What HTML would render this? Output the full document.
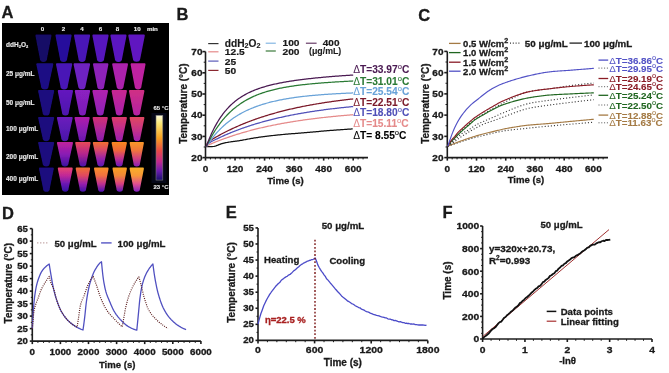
<!DOCTYPE html>
<html><head><meta charset="utf-8"><style>
html,body{margin:0;padding:0;background:#fff;width:669px;height:373px;overflow:hidden}
svg{display:block;font-family:"Liberation Sans", sans-serif;will-change:transform}
</style></head><body>
<svg width="669" height="373" viewBox="0 0 669 373">
<defs><filter id="blur" x="-20%" y="-20%" width="140%" height="140%"><feGaussianBlur stdDeviation="0.7"/></filter><linearGradient id="g1" x1="0" y1="0" x2="0" y2="1"><stop offset="0.00" stop-color="#6418be"/><stop offset="1.00" stop-color="#4c16ae"/></linearGradient><linearGradient id="g2" x1="0" y1="0" x2="0" y2="1"><stop offset="0.00" stop-color="#8c20c0"/><stop offset="1.00" stop-color="#7a1eb8"/></linearGradient><linearGradient id="g3" x1="0" y1="0" x2="0" y2="1"><stop offset="0.00" stop-color="#b020ae"/><stop offset="1.00" stop-color="#8c20b8"/></linearGradient><linearGradient id="g4" x1="0" y1="0" x2="0" y2="1"><stop offset="0.00" stop-color="#c82890"/><stop offset="1.00" stop-color="#a820ac"/></linearGradient><linearGradient id="g5" x1="0" y1="0" x2="0" y2="1"><stop offset="0.00" stop-color="#d03084"/><stop offset="1.00" stop-color="#b422a4"/></linearGradient><linearGradient id="g6" x1="0" y1="0" x2="0" y2="1"><stop offset="0.00" stop-color="#6c1cbc"/><stop offset="0.50" stop-color="#5a1ab4"/><stop offset="1.00" stop-color="#4816a8"/></linearGradient><linearGradient id="g7" x1="0" y1="0" x2="0" y2="1"><stop offset="0.00" stop-color="#b01ea8"/><stop offset="0.50" stop-color="#8c1cb4"/><stop offset="1.00" stop-color="#6a18b0"/></linearGradient><linearGradient id="g8" x1="0" y1="0" x2="0" y2="1"><stop offset="0.00" stop-color="#d03072"/><stop offset="0.50" stop-color="#b02898"/><stop offset="1.00" stop-color="#8a1cb0"/></linearGradient><linearGradient id="g9" x1="0" y1="0" x2="0" y2="1"><stop offset="0.00" stop-color="#dc3c68"/><stop offset="0.50" stop-color="#c02c90"/><stop offset="1.00" stop-color="#9a20b0"/></linearGradient><linearGradient id="g10" x1="0" y1="0" x2="0" y2="1"><stop offset="0.00" stop-color="#e04860"/><stop offset="0.50" stop-color="#c83484"/><stop offset="1.00" stop-color="#a020b0"/></linearGradient><linearGradient id="g11" x1="0" y1="0" x2="0" y2="1"><stop offset="0.00" stop-color="#c0229c"/><stop offset="0.50" stop-color="#8a1cb4"/><stop offset="1.00" stop-color="#3a10a0"/></linearGradient><linearGradient id="g12" x1="0" y1="0" x2="0" y2="1"><stop offset="0.00" stop-color="#e84a58"/><stop offset="0.50" stop-color="#b4248e"/><stop offset="1.00" stop-color="#4a12a8"/></linearGradient><linearGradient id="g13" x1="0" y1="0" x2="0" y2="1"><stop offset="0.00" stop-color="#f07030"/><stop offset="0.33" stop-color="#d84868"/><stop offset="0.67" stop-color="#9a22a8"/><stop offset="1.00" stop-color="#5a18b0"/></linearGradient><linearGradient id="g14" x1="0" y1="0" x2="0" y2="1"><stop offset="0.00" stop-color="#f88820"/><stop offset="0.33" stop-color="#f06838"/><stop offset="0.67" stop-color="#c03090"/><stop offset="1.00" stop-color="#6a18b8"/></linearGradient><linearGradient id="g15" x1="0" y1="0" x2="0" y2="1"><stop offset="0.00" stop-color="#f89828"/><stop offset="0.33" stop-color="#f07838"/><stop offset="0.67" stop-color="#d04080"/><stop offset="1.00" stop-color="#8a20b8"/></linearGradient><linearGradient id="g16" x1="0" y1="0" x2="0" y2="1"><stop offset="0.00" stop-color="#e84470"/><stop offset="0.33" stop-color="#c02898"/><stop offset="0.67" stop-color="#6a18b4"/><stop offset="1.00" stop-color="#3010a0"/></linearGradient><linearGradient id="g17" x1="0" y1="0" x2="0" y2="1"><stop offset="0.00" stop-color="#f07032"/><stop offset="0.33" stop-color="#e04860"/><stop offset="0.67" stop-color="#9a20ac"/><stop offset="1.00" stop-color="#4010a8"/></linearGradient><linearGradient id="g18" x1="0" y1="0" x2="0" y2="1"><stop offset="0.00" stop-color="#f89028"/><stop offset="0.33" stop-color="#f07040"/><stop offset="0.67" stop-color="#c03090"/><stop offset="1.00" stop-color="#4a10b0"/></linearGradient><linearGradient id="g19" x1="0" y1="0" x2="0" y2="1"><stop offset="0.00" stop-color="#f8a020"/><stop offset="0.33" stop-color="#f08838"/><stop offset="0.67" stop-color="#d84080"/><stop offset="1.00" stop-color="#5a18b8"/></linearGradient><linearGradient id="g20" x1="0" y1="0" x2="0" y2="1"><stop offset="0.00" stop-color="#f8b028"/><stop offset="0.33" stop-color="#f89838"/><stop offset="0.67" stop-color="#e05090"/><stop offset="1.00" stop-color="#8020c0"/></linearGradient><linearGradient id="cbar" x1="0" y1="0" x2="0" y2="1"><stop offset="0" stop-color="#fdfbe0"/><stop offset="0.12" stop-color="#fbe878"/><stop offset="0.35" stop-color="#f8a020"/><stop offset="0.55" stop-color="#e84848"/><stop offset="0.72" stop-color="#c02890"/><stop offset="0.86" stop-color="#6a1cb0"/><stop offset="1" stop-color="#1a1070"/></linearGradient></defs>
<rect width="669" height="373" fill="#fff"/>
<text x="1.50" y="17.70" font-size="16.5" text-anchor="start" fill="#1a1a1a" font-weight="bold" stroke="#1a1a1a" stroke-width="0.3" >A</text>
<text x="176.50" y="20.20" font-size="16.5" text-anchor="start" fill="#1a1a1a" font-weight="bold" stroke="#1a1a1a" stroke-width="0.3" >B</text>
<text x="418.20" y="20.50" font-size="16.5" text-anchor="start" fill="#1a1a1a" font-weight="bold" stroke="#1a1a1a" stroke-width="0.3" >C</text>
<text x="2.00" y="218.60" font-size="16.5" text-anchor="start" fill="#1a1a1a" font-weight="bold" stroke="#1a1a1a" stroke-width="0.3" >D</text>
<text x="225.80" y="217.50" font-size="16.5" text-anchor="start" fill="#1a1a1a" font-weight="bold" stroke="#1a1a1a" stroke-width="0.3" >E</text>
<text x="442.50" y="217.50" font-size="16.5" text-anchor="start" fill="#1a1a1a" font-weight="bold" stroke="#1a1a1a" stroke-width="0.3" >F</text>
<rect x="2" y="23" width="167" height="172" fill="#000"/>
<path d="M36.20,34.50 L50.70,34.50 Q51.50,34.50 51.50,35.70 L47.15,58.30 A3.70,3.70 0 0 1 39.75,58.30 L35.40,35.70 Q35.40,34.50 36.20,34.50 Z" fill="#140a66" filter="url(#blur)"/>
<path d="M56.30,34.50 L70.80,34.50 Q71.60,34.50 71.60,35.70 L67.25,58.30 A3.70,3.70 0 0 1 59.85,58.30 L55.50,35.70 Q55.50,34.50 56.30,34.50 Z" fill="#28109c" filter="url(#blur)"/>
<path d="M74.80,34.50 L89.30,34.50 Q90.10,34.50 90.10,35.70 L85.75,58.30 A3.70,3.70 0 0 1 78.35,58.30 L74.00,35.70 Q74.00,34.50 74.80,34.50 Z" fill="#4816b6" filter="url(#blur)"/>
<path d="M93.20,34.50 L107.80,34.50 Q108.60,34.50 108.60,35.70 L104.23,58.27 A3.73,3.73 0 0 1 96.77,58.27 L92.40,35.70 Q92.40,34.50 93.20,34.50 Z" fill="#5617bc" filter="url(#blur)"/>
<path d="M111.20,34.50 L125.70,34.50 Q126.50,34.50 126.50,35.70 L122.15,58.30 A3.70,3.70 0 0 1 114.75,58.30 L110.40,35.70 Q110.40,34.50 111.20,34.50 Z" fill="#5a18c0" filter="url(#blur)"/>
<path d="M129.10,34.50 L144.00,34.50 Q144.80,34.50 144.80,35.70 L140.34,58.20 A3.80,3.80 0 0 1 132.76,58.20 L128.30,35.70 Q128.30,34.50 129.10,34.50 Z" fill="#6018c0" filter="url(#blur)"/>
<path d="M37.10,63.20 L52.50,63.20 Q53.30,63.20 53.30,64.40 L48.71,85.59 A3.91,3.91 0 0 1 40.89,85.59 L36.30,64.40 Q36.30,63.20 37.10,63.20 Z" fill="#1c0c84" filter="url(#blur)"/>
<path d="M56.80,63.20 L71.40,63.20 Q72.20,63.20 72.20,64.40 L67.83,85.77 A3.73,3.73 0 0 1 60.37,85.77 L56.00,64.40 Q56.00,63.20 56.80,63.20 Z" fill="#4818b6" filter="url(#blur)"/>
<path d="M74.40,63.20 L89.30,63.20 Q90.10,63.20 90.10,64.40 L85.64,85.70 A3.80,3.80 0 0 1 78.05,85.70 L73.60,64.40 Q73.60,63.20 74.40,63.20 Z" fill="#6e20c0" filter="url(#blur)"/>
<path d="M93.80,63.20 L107.60,63.20 Q108.40,63.20 108.40,64.40 L104.24,85.96 A3.54,3.54 0 0 1 97.16,85.96 L93.00,64.40 Q93.00,63.20 93.80,63.20 Z" fill="#8e20b8" filter="url(#blur)"/>
<path d="M113.00,63.20 L127.20,63.20 Q128.00,63.20 128.00,64.40 L123.73,85.87 A3.63,3.63 0 0 1 116.47,85.87 L112.20,64.40 Q112.20,63.20 113.00,63.20 Z" fill="#ac20ac" filter="url(#blur)"/>
<path d="M131.40,63.20 L144.70,63.20 Q145.50,63.20 145.50,64.40 L141.48,86.07 A3.43,3.43 0 0 1 134.62,86.07 L130.60,64.40 Q130.60,63.20 131.40,63.20 Z" fill="#be22a0" filter="url(#blur)"/>
<path d="M38.90,90.00 L53.40,90.00 Q54.20,90.00 54.20,91.20 L49.85,111.90 A3.70,3.70 0 0 1 42.45,111.90 L38.10,91.20 Q38.10,90.00 38.90,90.00 Z" fill="#1a0c7e" filter="url(#blur)"/>
<path d="M58.60,90.00 L72.20,90.00 Q73.00,90.00 73.00,91.20 L68.90,112.10 A3.50,3.50 0 0 1 61.90,112.10 L57.80,91.20 Q57.80,90.00 58.60,90.00 Z" fill="url(#g1)" filter="url(#blur)"/>
<path d="M75.60,90.00 L89.30,90.00 Q90.10,90.00 90.10,91.20 L85.97,112.08 A3.52,3.52 0 0 1 78.93,112.08 L74.80,91.20 Q74.80,90.00 75.60,90.00 Z" fill="url(#g2)" filter="url(#blur)"/>
<path d="M93.20,90.00 L107.20,90.00 Q108.00,90.00 108.00,91.20 L103.79,112.01 A3.59,3.59 0 0 1 96.61,112.01 L92.40,91.20 Q92.40,90.00 93.20,90.00 Z" fill="url(#g3)" filter="url(#blur)"/>
<path d="M112.40,90.00 L126.10,90.00 Q126.90,90.00 126.90,91.20 L122.77,112.08 A3.52,3.52 0 0 1 115.73,112.08 L111.60,91.20 Q111.60,90.00 112.40,90.00 Z" fill="url(#g4)" filter="url(#blur)"/>
<path d="M129.80,90.00 L143.60,90.00 Q144.40,90.00 144.40,91.20 L140.24,112.06 A3.54,3.54 0 0 1 133.16,112.06 L129.00,91.20 Q129.00,90.00 129.80,90.00 Z" fill="url(#g5)" filter="url(#blur)"/>
<path d="M38.90,116.90 L53.40,116.90 Q54.20,116.90 54.20,118.10 L49.85,137.50 A3.70,3.70 0 0 1 42.45,137.50 L38.10,118.10 Q38.10,116.90 38.90,116.90 Z" fill="#1a0c7e" filter="url(#blur)"/>
<path d="M57.70,116.90 L71.90,116.90 Q72.70,116.90 72.70,118.10 L68.43,137.57 A3.63,3.63 0 0 1 61.17,137.57 L56.90,118.10 Q56.90,116.90 57.70,116.90 Z" fill="url(#g6)" filter="url(#blur)"/>
<path d="M75.30,116.90 L88.90,116.90 Q89.70,116.90 89.70,118.10 L85.60,137.70 A3.50,3.50 0 0 1 78.60,137.70 L74.50,118.10 Q74.50,116.90 75.30,116.90 Z" fill="url(#g7)" filter="url(#blur)"/>
<path d="M93.40,116.90 L107.00,116.90 Q107.80,116.90 107.80,118.10 L103.70,137.70 A3.50,3.50 0 0 1 96.70,137.70 L92.60,118.10 Q92.60,116.90 93.40,116.90 Z" fill="url(#g8)" filter="url(#blur)"/>
<path d="M112.40,116.90 L126.10,116.90 Q126.90,116.90 126.90,118.10 L122.77,137.68 A3.52,3.52 0 0 1 115.73,137.68 L111.60,118.10 Q111.60,116.90 112.40,116.90 Z" fill="url(#g9)" filter="url(#blur)"/>
<path d="M130.40,116.90 L143.60,116.90 Q144.40,116.90 144.40,118.10 L140.40,137.80 A3.40,3.40 0 0 1 133.60,137.80 L129.60,118.10 Q129.60,116.90 130.40,116.90 Z" fill="url(#g10)" filter="url(#blur)"/>
<path d="M38.90,141.90 L53.40,141.90 Q54.20,141.90 54.20,143.10 L49.85,162.80 A3.70,3.70 0 0 1 42.45,162.80 L38.10,143.10 Q38.10,141.90 38.90,141.90 Z" fill="#1a0c7e" filter="url(#blur)"/>
<path d="M57.70,141.90 L72.20,141.90 Q73.00,141.90 73.00,143.10 L68.65,162.80 A3.70,3.70 0 0 1 61.25,162.80 L56.90,143.10 Q56.90,141.90 57.70,141.90 Z" fill="url(#g11)" filter="url(#blur)"/>
<path d="M76.00,141.90 L89.80,141.90 Q90.60,141.90 90.60,143.10 L86.44,162.96 A3.54,3.54 0 0 1 79.36,162.96 L75.20,143.10 Q75.20,141.90 76.00,141.90 Z" fill="url(#g12)" filter="url(#blur)"/>
<path d="M93.60,141.90 L107.80,141.90 Q108.60,141.90 108.60,143.10 L104.33,162.87 A3.63,3.63 0 0 1 97.07,162.87 L92.80,143.10 Q92.80,141.90 93.60,141.90 Z" fill="url(#g13)" filter="url(#blur)"/>
<path d="M112.40,141.90 L126.10,141.90 Q126.90,141.90 126.90,143.10 L122.77,162.98 A3.52,3.52 0 0 1 115.73,162.98 L111.60,143.10 Q111.60,141.90 112.40,141.90 Z" fill="url(#g14)" filter="url(#blur)"/>
<path d="M130.40,141.90 L143.10,141.90 Q143.90,141.90 143.90,143.10 L140.04,163.21 A3.29,3.29 0 0 1 133.46,163.21 L129.60,143.10 Q129.60,141.90 130.40,141.90 Z" fill="url(#g15)" filter="url(#blur)"/>
<path d="M39.80,167.60 L53.00,167.60 Q53.80,167.60 53.80,168.80 L49.80,188.40 A3.40,3.40 0 0 1 43.00,188.40 L39.00,168.80 Q39.00,167.60 39.80,167.60 Z" fill="#1a0c7e" filter="url(#blur)"/>
<path d="M58.60,167.60 L71.90,167.60 Q72.70,167.60 72.70,168.80 L68.68,188.37 A3.43,3.43 0 0 1 61.82,188.37 L57.80,168.80 Q57.80,167.60 58.60,167.60 Z" fill="url(#g16)" filter="url(#blur)"/>
<path d="M76.50,167.60 L89.30,167.60 Q90.10,167.60 90.10,168.80 L86.21,188.49 A3.31,3.31 0 0 1 79.59,188.49 L75.70,168.80 Q75.70,167.60 76.50,167.60 Z" fill="url(#g17)" filter="url(#blur)"/>
<path d="M94.80,167.60 L107.80,167.60 Q108.60,167.60 108.60,168.80 L104.66,188.44 A3.36,3.36 0 0 1 97.94,188.44 L94.00,168.80 Q94.00,167.60 94.80,167.60 Z" fill="url(#g18)" filter="url(#blur)"/>
<path d="M113.30,167.60 L126.10,167.60 Q126.90,167.60 126.90,168.80 L123.01,188.49 A3.31,3.31 0 0 1 116.39,188.49 L112.50,168.80 Q112.50,167.60 113.30,167.60 Z" fill="url(#g19)" filter="url(#blur)"/>
<path d="M130.40,167.60 L143.10,167.60 Q143.90,167.60 143.90,168.80 L140.04,188.51 A3.29,3.29 0 0 1 133.46,188.51 L129.60,168.80 Q129.60,167.60 130.40,167.60 Z" fill="url(#g20)" filter="url(#blur)"/>
<text x="42.50" y="31.30" font-size="6.2" text-anchor="middle" fill="#e8e8e8" font-weight="bold" stroke="#e8e8e8" stroke-width="0.15" >0</text>
<text x="63.40" y="31.30" font-size="6.2" text-anchor="middle" fill="#e8e8e8" font-weight="bold" stroke="#e8e8e8" stroke-width="0.15" >2</text>
<text x="81.90" y="31.30" font-size="6.2" text-anchor="middle" fill="#e8e8e8" font-weight="bold" stroke="#e8e8e8" stroke-width="0.15" >4</text>
<text x="100.60" y="31.30" font-size="6.2" text-anchor="middle" fill="#e8e8e8" font-weight="bold" stroke="#e8e8e8" stroke-width="0.15" >6</text>
<text x="117.60" y="31.30" font-size="6.2" text-anchor="middle" fill="#e8e8e8" font-weight="bold" stroke="#e8e8e8" stroke-width="0.15" >8</text>
<text x="137.20" y="31.30" font-size="6.2" text-anchor="middle" fill="#e8e8e8" font-weight="bold" stroke="#e8e8e8" stroke-width="0.15" >10</text>
<text x="152.40" y="31.30" font-size="6.2" text-anchor="middle" fill="#e8e8e8" font-weight="bold" stroke="#e8e8e8" stroke-width="0.15" >min</text>
<text x="6.00" y="46.80" font-size="6.5" text-anchor="start" fill="#e8e8e8" font-weight="bold" stroke="#e8e8e8" stroke-width="0.15" >ddH<tspan font-size="4" dy="1.5">2</tspan><tspan dy="-1.5">O</tspan><tspan font-size="4" dy="1.5">2</tspan></text>
<text x="6.00" y="76.40" font-size="6.5" text-anchor="start" fill="#e8e8e8" font-weight="bold" stroke="#e8e8e8" stroke-width="0.15" >25 μg/mL</text>
<text x="6.00" y="105.10" font-size="6.5" text-anchor="start" fill="#e8e8e8" font-weight="bold" stroke="#e8e8e8" stroke-width="0.15" >50 μg/mL</text>
<text x="6.00" y="130.80" font-size="6.5" text-anchor="start" fill="#e8e8e8" font-weight="bold" stroke="#e8e8e8" stroke-width="0.15" >100 μg/mL</text>
<text x="6.00" y="158.80" font-size="6.5" text-anchor="start" fill="#e8e8e8" font-weight="bold" stroke="#e8e8e8" stroke-width="0.15" >200 μg/mL</text>
<text x="6.00" y="181.20" font-size="6.5" text-anchor="start" fill="#e8e8e8" font-weight="bold" stroke="#e8e8e8" stroke-width="0.15" >400 μg/mL</text>
<rect x="151.5" y="113" width="15" height="70" fill="#060818"/>
<rect x="156" y="115.3" width="6.8" height="64.8" fill="url(#cbar)" stroke="#777" stroke-width="0.6"/>
<text x="161.00" y="109.50" font-size="6" text-anchor="middle" fill="#e8e8e8" font-weight="bold" stroke="#e8e8e8" stroke-width="0.12" >65 °C</text>
<text x="161.00" y="189.30" font-size="6" text-anchor="middle" fill="#e8e8e8" font-weight="bold" stroke="#e8e8e8" stroke-width="0.12" >23 °C</text>
<line x1="205.50" y1="51.60" x2="205.50" y2="157.60" stroke="#1c1c1c" stroke-width="1.6" />
<line x1="202.50" y1="157.60" x2="205.50" y2="157.60" stroke="#1c1c1c" stroke-width="1.6" />
<text transform="translate(202.50,160.80) scale(1.12,1)" font-size="8.93" text-anchor="end" fill="#1a1a1a" font-weight="bold" stroke="#1a1a1a" stroke-width="0.3">20</text>
<line x1="202.50" y1="136.40" x2="205.50" y2="136.40" stroke="#1c1c1c" stroke-width="1.6" />
<text transform="translate(202.50,139.60) scale(1.12,1)" font-size="8.93" text-anchor="end" fill="#1a1a1a" font-weight="bold" stroke="#1a1a1a" stroke-width="0.3">30</text>
<line x1="202.50" y1="115.20" x2="205.50" y2="115.20" stroke="#1c1c1c" stroke-width="1.6" />
<text transform="translate(202.50,118.40) scale(1.12,1)" font-size="8.93" text-anchor="end" fill="#1a1a1a" font-weight="bold" stroke="#1a1a1a" stroke-width="0.3">40</text>
<line x1="202.50" y1="94.00" x2="205.50" y2="94.00" stroke="#1c1c1c" stroke-width="1.6" />
<text transform="translate(202.50,97.20) scale(1.12,1)" font-size="8.93" text-anchor="end" fill="#1a1a1a" font-weight="bold" stroke="#1a1a1a" stroke-width="0.3">50</text>
<line x1="202.50" y1="72.80" x2="205.50" y2="72.80" stroke="#1c1c1c" stroke-width="1.6" />
<text transform="translate(202.50,76.00) scale(1.12,1)" font-size="8.93" text-anchor="end" fill="#1a1a1a" font-weight="bold" stroke="#1a1a1a" stroke-width="0.3">60</text>
<line x1="202.50" y1="51.60" x2="205.50" y2="51.60" stroke="#1c1c1c" stroke-width="1.6" />
<text transform="translate(202.50,54.80) scale(1.12,1)" font-size="8.93" text-anchor="end" fill="#1a1a1a" font-weight="bold" stroke="#1a1a1a" stroke-width="0.3">70</text>
<line x1="203.70" y1="147.00" x2="205.50" y2="147.00" stroke="#1c1c1c" stroke-width="1.0" />
<line x1="203.70" y1="125.80" x2="205.50" y2="125.80" stroke="#1c1c1c" stroke-width="1.0" />
<line x1="203.70" y1="104.60" x2="205.50" y2="104.60" stroke="#1c1c1c" stroke-width="1.0" />
<line x1="203.70" y1="83.40" x2="205.50" y2="83.40" stroke="#1c1c1c" stroke-width="1.0" />
<line x1="203.70" y1="62.20" x2="205.50" y2="62.20" stroke="#1c1c1c" stroke-width="1.0" />
<line x1="205.50" y1="157.60" x2="367.97" y2="157.60" stroke="#1c1c1c" stroke-width="1.6" />
<line x1="205.50" y1="157.60" x2="205.50" y2="160.60" stroke="#1c1c1c" stroke-width="1.6" />
<text transform="translate(205.50,171.60) scale(1.12,1)" font-size="8.93" text-anchor="middle" fill="#1a1a1a" font-weight="bold" stroke="#1a1a1a" stroke-width="0.3">0</text>
<line x1="235.04" y1="157.60" x2="235.04" y2="160.60" stroke="#1c1c1c" stroke-width="1.6" />
<text transform="translate(235.04,171.60) scale(1.12,1)" font-size="8.93" text-anchor="middle" fill="#1a1a1a" font-weight="bold" stroke="#1a1a1a" stroke-width="0.3">120</text>
<line x1="264.58" y1="157.60" x2="264.58" y2="160.60" stroke="#1c1c1c" stroke-width="1.6" />
<text transform="translate(264.58,171.60) scale(1.12,1)" font-size="8.93" text-anchor="middle" fill="#1a1a1a" font-weight="bold" stroke="#1a1a1a" stroke-width="0.3">240</text>
<line x1="294.12" y1="157.60" x2="294.12" y2="160.60" stroke="#1c1c1c" stroke-width="1.6" />
<text transform="translate(294.12,171.60) scale(1.12,1)" font-size="8.93" text-anchor="middle" fill="#1a1a1a" font-weight="bold" stroke="#1a1a1a" stroke-width="0.3">360</text>
<line x1="323.66" y1="157.60" x2="323.66" y2="160.60" stroke="#1c1c1c" stroke-width="1.6" />
<text transform="translate(323.66,171.60) scale(1.12,1)" font-size="8.93" text-anchor="middle" fill="#1a1a1a" font-weight="bold" stroke="#1a1a1a" stroke-width="0.3">480</text>
<line x1="353.20" y1="157.60" x2="353.20" y2="160.60" stroke="#1c1c1c" stroke-width="1.6" />
<text transform="translate(353.20,171.60) scale(1.12,1)" font-size="8.93" text-anchor="middle" fill="#1a1a1a" font-weight="bold" stroke="#1a1a1a" stroke-width="0.3">600</text>
<line x1="210.42" y1="157.60" x2="210.42" y2="159.40" stroke="#1c1c1c" stroke-width="1.0" />
<line x1="215.35" y1="157.60" x2="215.35" y2="159.40" stroke="#1c1c1c" stroke-width="1.0" />
<line x1="220.27" y1="157.60" x2="220.27" y2="159.40" stroke="#1c1c1c" stroke-width="1.0" />
<line x1="225.19" y1="157.60" x2="225.19" y2="159.40" stroke="#1c1c1c" stroke-width="1.0" />
<line x1="230.12" y1="157.60" x2="230.12" y2="159.40" stroke="#1c1c1c" stroke-width="1.0" />
<line x1="239.96" y1="157.60" x2="239.96" y2="159.40" stroke="#1c1c1c" stroke-width="1.0" />
<line x1="244.89" y1="157.60" x2="244.89" y2="159.40" stroke="#1c1c1c" stroke-width="1.0" />
<line x1="249.81" y1="157.60" x2="249.81" y2="159.40" stroke="#1c1c1c" stroke-width="1.0" />
<line x1="254.73" y1="157.60" x2="254.73" y2="159.40" stroke="#1c1c1c" stroke-width="1.0" />
<line x1="259.66" y1="157.60" x2="259.66" y2="159.40" stroke="#1c1c1c" stroke-width="1.0" />
<line x1="269.50" y1="157.60" x2="269.50" y2="159.40" stroke="#1c1c1c" stroke-width="1.0" />
<line x1="274.43" y1="157.60" x2="274.43" y2="159.40" stroke="#1c1c1c" stroke-width="1.0" />
<line x1="279.35" y1="157.60" x2="279.35" y2="159.40" stroke="#1c1c1c" stroke-width="1.0" />
<line x1="284.27" y1="157.60" x2="284.27" y2="159.40" stroke="#1c1c1c" stroke-width="1.0" />
<line x1="289.20" y1="157.60" x2="289.20" y2="159.40" stroke="#1c1c1c" stroke-width="1.0" />
<line x1="299.04" y1="157.60" x2="299.04" y2="159.40" stroke="#1c1c1c" stroke-width="1.0" />
<line x1="303.97" y1="157.60" x2="303.97" y2="159.40" stroke="#1c1c1c" stroke-width="1.0" />
<line x1="308.89" y1="157.60" x2="308.89" y2="159.40" stroke="#1c1c1c" stroke-width="1.0" />
<line x1="313.81" y1="157.60" x2="313.81" y2="159.40" stroke="#1c1c1c" stroke-width="1.0" />
<line x1="318.74" y1="157.60" x2="318.74" y2="159.40" stroke="#1c1c1c" stroke-width="1.0" />
<line x1="328.58" y1="157.60" x2="328.58" y2="159.40" stroke="#1c1c1c" stroke-width="1.0" />
<line x1="333.51" y1="157.60" x2="333.51" y2="159.40" stroke="#1c1c1c" stroke-width="1.0" />
<line x1="338.43" y1="157.60" x2="338.43" y2="159.40" stroke="#1c1c1c" stroke-width="1.0" />
<line x1="343.35" y1="157.60" x2="343.35" y2="159.40" stroke="#1c1c1c" stroke-width="1.0" />
<line x1="348.28" y1="157.60" x2="348.28" y2="159.40" stroke="#1c1c1c" stroke-width="1.0" />
<line x1="358.12" y1="157.60" x2="358.12" y2="159.40" stroke="#1c1c1c" stroke-width="1.0" />
<line x1="363.05" y1="157.60" x2="363.05" y2="159.40" stroke="#1c1c1c" stroke-width="1.0" />
<text x="285.50" y="184.10" font-size="9.6" text-anchor="middle" fill="#1a1a1a" font-weight="bold" stroke="#1a1a1a" stroke-width="0.3" >Time (s)</text>
<text x="0" y="0" font-size="10" text-anchor="middle" fill="#1a1a1a" stroke="#1a1a1a" stroke-width="0.3" font-weight="bold" transform="translate(183.90,103.60) rotate(-90)" dominant-baseline="central">Temperature (°C)</text>
<path d="M206.20,146.63 L207.18,146.65 L208.17,146.67 L209.15,146.69 L210.13,146.68 L211.12,146.65 L212.10,146.60 L213.08,146.50 L214.07,146.34 L215.05,146.10 L216.03,145.81 L217.02,145.46 L218.00,145.08 L218.98,144.70 L219.97,144.32 L220.95,143.96 L221.93,143.63 L222.92,143.35 L223.90,143.11 L224.88,142.89 L225.87,142.69 L226.85,142.50 L227.83,142.32 L228.82,142.15 L229.80,142.00 L230.78,141.85 L231.77,141.71 L232.75,141.58 L233.73,141.45 L234.72,141.32 L235.70,141.19 L236.68,141.06 L237.66,140.93 L238.65,140.78 L239.63,140.63 L240.61,140.47 L241.60,140.31 L242.58,140.13 L243.56,139.95 L244.55,139.76 L245.53,139.57 L246.51,139.38 L247.50,139.19 L248.48,139.00 L249.46,138.82 L250.45,138.64 L251.43,138.47 L252.41,138.30 L253.40,138.14 L254.38,137.98 L255.36,137.82 L256.35,137.67 L257.33,137.52 L258.31,137.37 L259.30,137.22 L260.28,137.08 L261.26,136.94 L262.25,136.81 L263.23,136.68 L264.21,136.55 L265.20,136.43 L266.18,136.30 L267.16,136.18 L268.15,136.07 L269.13,135.95 L270.11,135.84 L271.10,135.72 L272.08,135.61 L273.06,135.50 L274.05,135.40 L275.03,135.29 L276.01,135.19 L277.00,135.09 L277.98,134.99 L278.96,134.89 L279.95,134.79 L280.93,134.69 L281.91,134.60 L282.90,134.50 L283.88,134.41 L284.86,134.32 L285.85,134.23 L286.83,134.15 L287.81,134.06 L288.80,133.98 L289.78,133.90 L290.76,133.82 L291.75,133.74 L292.73,133.67 L293.71,133.59 L294.69,133.51 L295.68,133.44 L296.66,133.36 L297.64,133.29 L298.63,133.21 L299.61,133.13 L300.59,133.06 L301.58,132.98 L302.56,132.90 L303.54,132.82 L304.53,132.74 L305.51,132.66 L306.49,132.57 L307.48,132.49 L308.46,132.40 L309.44,132.31 L310.43,132.22 L311.41,132.14 L312.39,132.05 L313.38,131.96 L314.36,131.87 L315.34,131.78 L316.33,131.69 L317.31,131.60 L318.29,131.51 L319.28,131.42 L320.26,131.33 L321.24,131.24 L322.23,131.15 L323.21,131.06 L324.19,130.98 L325.18,130.89 L326.16,130.81 L327.14,130.73 L328.13,130.65 L329.11,130.57 L330.09,130.49 L331.08,130.42 L332.06,130.34 L333.04,130.27 L334.03,130.19 L335.01,130.12 L335.99,130.05 L336.98,129.98 L337.96,129.91 L338.94,129.84 L339.93,129.77 L340.91,129.70 L341.89,129.63 L342.88,129.56 L343.86,129.50 L344.84,129.43 L345.83,129.36 L346.81,129.30 L347.79,129.24 L348.78,129.17 L349.76,129.11 L350.74,129.05 L351.73,128.99 L352.71,128.95" fill="none" stroke="#111111" stroke-width="1.25" stroke-linejoin="round" />
<path d="M206.20,146.60 L207.19,145.77 L208.17,145.19 L209.16,144.70 L210.15,144.26 L211.13,143.83 L212.12,143.41 L213.11,143.00 L214.09,142.59 L215.08,142.19 L216.07,141.79 L217.05,141.40 L218.04,141.01 L219.03,140.63 L220.01,140.25 L221.00,139.88 L221.99,139.51 L222.97,139.14 L223.96,138.78 L224.94,138.42 L225.93,138.07 L226.92,137.72 L227.90,137.38 L228.89,137.04 L229.88,136.70 L230.86,136.37 L231.85,136.04 L232.84,135.71 L233.82,135.39 L234.81,135.07 L235.80,134.76 L236.78,134.45 L237.77,134.14 L238.76,133.84 L239.74,133.54 L240.73,133.24 L241.72,132.95 L242.70,132.66 L243.69,132.38 L244.68,132.09 L245.66,131.81 L246.65,131.54 L247.64,131.27 L248.62,131.00 L249.61,130.73 L250.60,130.47 L251.58,130.21 L252.57,129.95 L253.56,129.69 L254.54,129.44 L255.53,129.19 L256.52,128.95 L257.50,128.71 L258.49,128.47 L259.48,128.23 L260.46,127.99 L261.45,127.76 L262.43,127.53 L263.42,127.31 L264.41,127.08 L265.39,126.86 L266.38,126.65 L267.37,126.43 L268.35,126.22 L269.34,126.00 L270.33,125.80 L271.31,125.59 L272.30,125.39 L273.29,125.19 L274.27,124.99 L275.26,124.79 L276.25,124.60 L277.23,124.40 L278.22,124.21 L279.21,124.03 L280.19,123.84 L281.18,123.66 L282.17,123.48 L283.15,123.30 L284.14,123.12 L285.13,122.95 L286.11,122.77 L287.10,122.60 L288.09,122.43 L289.07,122.27 L290.06,122.10 L291.05,121.94 L292.03,121.78 L293.02,121.62 L294.01,121.46 L294.99,121.30 L295.98,121.15 L296.97,121.00 L297.95,120.85 L298.94,120.70 L299.92,120.55 L300.91,120.41 L301.90,120.26 L302.88,120.12 L303.87,119.98 L304.86,119.84 L305.84,119.71 L306.83,119.57 L307.82,119.44 L308.80,119.31 L309.79,119.18 L310.78,119.05 L311.76,118.92 L312.75,118.79 L313.74,118.67 L314.72,118.55 L315.71,118.42 L316.70,118.30 L317.68,118.18 L318.67,118.07 L319.66,117.95 L320.64,117.84 L321.63,117.72 L322.62,117.61 L323.60,117.50 L324.59,117.39 L325.58,117.28 L326.56,117.18 L327.55,117.07 L328.54,116.96 L329.52,116.86 L330.51,116.76 L331.50,116.66 L332.48,116.56 L333.47,116.46 L334.46,116.36 L335.44,116.27 L336.43,116.17 L337.41,116.08 L338.40,115.98 L339.39,115.89 L340.37,115.80 L341.36,115.71 L342.35,115.62 L343.33,115.54 L344.32,115.45 L345.31,115.36 L346.29,115.28 L347.28,115.19 L348.27,115.11 L349.25,115.03 L350.24,114.95 L351.23,114.87 L352.21,114.79 L353.20,114.71" fill="none" stroke="#e58a8a" stroke-width="1.25" stroke-linejoin="round" />
<path d="M206.20,146.60 L207.19,144.69 L208.17,143.65 L209.16,142.93 L210.15,142.34 L211.13,141.80 L212.12,141.28 L213.11,140.77 L214.09,140.27 L215.08,139.78 L216.07,139.30 L217.05,138.82 L218.04,138.35 L219.03,137.88 L220.01,137.42 L221.00,136.96 L221.99,136.51 L222.97,136.06 L223.96,135.62 L224.94,135.19 L225.93,134.76 L226.92,134.33 L227.90,133.91 L228.89,133.50 L229.88,133.09 L230.86,132.68 L231.85,132.28 L232.84,131.88 L233.82,131.49 L234.81,131.11 L235.80,130.72 L236.78,130.35 L237.77,129.97 L238.76,129.60 L239.74,129.24 L240.73,128.88 L241.72,128.52 L242.70,128.17 L243.69,127.82 L244.68,127.48 L245.66,127.14 L246.65,126.81 L247.64,126.48 L248.62,126.15 L249.61,125.83 L250.60,125.51 L251.58,125.19 L252.57,124.88 L253.56,124.57 L254.54,124.26 L255.53,123.96 L256.52,123.67 L257.50,123.37 L258.49,123.08 L259.48,122.79 L260.46,122.51 L261.45,122.23 L262.43,121.95 L263.42,121.68 L264.41,121.41 L265.39,121.14 L266.38,120.88 L267.37,120.62 L268.35,120.36 L269.34,120.10 L270.33,119.85 L271.31,119.60 L272.30,119.36 L273.29,119.11 L274.27,118.87 L275.26,118.64 L276.25,118.40 L277.23,118.17 L278.22,117.94 L279.21,117.71 L280.19,117.49 L281.18,117.27 L282.17,117.05 L283.15,116.83 L284.14,116.62 L285.13,116.41 L286.11,116.20 L287.10,116.00 L288.09,115.79 L289.07,115.59 L290.06,115.39 L291.05,115.20 L292.03,115.00 L293.02,114.81 L294.01,114.62 L294.99,114.44 L295.98,114.25 L296.97,114.07 L297.95,113.89 L298.94,113.71 L299.92,113.53 L300.91,113.36 L301.90,113.19 L302.88,113.02 L303.87,112.85 L304.86,112.68 L305.84,112.52 L306.83,112.35 L307.82,112.19 L308.80,112.04 L309.79,111.88 L310.78,111.72 L311.76,111.57 L312.75,111.42 L313.74,111.27 L314.72,111.12 L315.71,110.98 L316.70,110.83 L317.68,110.69 L318.67,110.55 L319.66,110.41 L320.64,110.28 L321.63,110.14 L322.62,110.01 L323.60,109.87 L324.59,109.74 L325.58,109.61 L326.56,109.48 L327.55,109.36 L328.54,109.23 L329.52,109.11 L330.51,108.99 L331.50,108.87 L332.48,108.75 L333.47,108.63 L334.46,108.51 L335.44,108.40 L336.43,108.29 L337.41,108.17 L338.40,108.06 L339.39,107.95 L340.37,107.85 L341.36,107.74 L342.35,107.63 L343.33,107.53 L344.32,107.43 L345.31,107.32 L346.29,107.22 L347.28,107.12 L348.27,107.02 L349.25,106.93 L350.24,106.83 L351.23,106.74 L352.21,106.64 L353.20,106.55" fill="none" stroke="#5050b8" stroke-width="1.25" stroke-linejoin="round" />
<path d="M206.20,146.60 L207.19,143.71 L208.17,142.24 L209.16,141.32 L210.15,140.59 L211.13,139.95 L212.12,139.35 L213.11,138.76 L214.09,138.18 L215.08,137.61 L216.07,137.04 L217.05,136.48 L218.04,135.93 L219.03,135.39 L220.01,134.85 L221.00,134.32 L221.99,133.80 L222.97,133.28 L223.96,132.77 L224.94,132.26 L225.93,131.76 L226.92,131.27 L227.90,130.78 L228.89,130.30 L229.88,129.82 L230.86,129.35 L231.85,128.88 L232.84,128.42 L233.82,127.97 L234.81,127.52 L235.80,127.07 L236.78,126.63 L237.77,126.20 L238.76,125.77 L239.74,125.35 L240.73,124.93 L241.72,124.51 L242.70,124.10 L243.69,123.70 L244.68,123.30 L245.66,122.91 L246.65,122.52 L247.64,122.13 L248.62,121.75 L249.61,121.37 L250.60,121.00 L251.58,120.63 L252.57,120.27 L253.56,119.91 L254.54,119.56 L255.53,119.21 L256.52,118.86 L257.50,118.52 L258.49,118.18 L259.48,117.85 L260.46,117.52 L261.45,117.19 L262.43,116.87 L263.42,116.55 L264.41,116.23 L265.39,115.92 L266.38,115.61 L267.37,115.31 L268.35,115.01 L269.34,114.71 L270.33,114.42 L271.31,114.13 L272.30,113.84 L273.29,113.56 L274.27,113.28 L275.26,113.00 L276.25,112.73 L277.23,112.46 L278.22,112.19 L279.21,111.93 L280.19,111.67 L281.18,111.41 L282.17,111.16 L283.15,110.91 L284.14,110.66 L285.13,110.41 L286.11,110.17 L287.10,109.93 L288.09,109.69 L289.07,109.46 L290.06,109.23 L291.05,109.00 L292.03,108.77 L293.02,108.55 L294.01,108.33 L294.99,108.11 L295.98,107.90 L296.97,107.68 L297.95,107.47 L298.94,107.27 L299.92,107.06 L300.91,106.86 L301.90,106.66 L302.88,106.46 L303.87,106.26 L304.86,106.07 L305.84,105.88 L306.83,105.69 L307.82,105.50 L308.80,105.32 L309.79,105.13 L310.78,104.95 L311.76,104.78 L312.75,104.60 L313.74,104.43 L314.72,104.25 L315.71,104.08 L316.70,103.92 L317.68,103.75 L318.67,103.59 L319.66,103.42 L320.64,103.26 L321.63,103.11 L322.62,102.95 L323.60,102.79 L324.59,102.64 L325.58,102.49 L326.56,102.34 L327.55,102.19 L328.54,102.05 L329.52,101.90 L330.51,101.76 L331.50,101.62 L332.48,101.48 L333.47,101.35 L334.46,101.21 L335.44,101.08 L336.43,100.94 L337.41,100.81 L338.40,100.68 L339.39,100.56 L340.37,100.43 L341.36,100.30 L342.35,100.18 L343.33,100.06 L344.32,99.94 L345.31,99.82 L346.29,99.70 L347.28,99.59 L348.27,99.47 L349.25,99.36 L350.24,99.24 L351.23,99.13 L352.21,99.02 L353.20,98.92" fill="none" stroke="#7a1828" stroke-width="1.25" stroke-linejoin="round" />
<path d="M206.20,146.60 L207.19,145.11 L208.17,143.66 L209.16,142.26 L210.15,140.89 L211.13,139.57 L212.12,138.29 L213.11,137.05 L214.09,135.84 L215.08,134.67 L216.07,133.53 L217.05,132.43 L218.04,131.36 L219.03,130.32 L220.01,129.31 L221.00,128.32 L221.99,127.37 L222.97,126.45 L223.96,125.55 L224.94,124.67 L225.93,123.82 L226.92,123.00 L227.90,122.20 L228.89,121.42 L229.88,120.66 L230.86,119.93 L231.85,119.21 L232.84,118.52 L233.82,117.84 L234.81,117.18 L235.80,116.54 L236.78,115.92 L237.77,115.31 L238.76,114.73 L239.74,114.15 L240.73,113.60 L241.72,113.05 L242.70,112.53 L243.69,112.01 L244.68,111.51 L245.66,111.03 L246.65,110.55 L247.64,110.09 L248.62,109.64 L249.61,109.20 L250.60,108.78 L251.58,108.36 L252.57,107.96 L253.56,107.57 L254.54,107.18 L255.53,106.81 L256.52,106.44 L257.50,106.09 L258.49,105.74 L259.48,105.41 L260.46,105.08 L261.45,104.76 L262.43,104.45 L263.42,104.14 L264.41,103.85 L265.39,103.56 L266.38,103.27 L267.37,103.00 L268.35,102.73 L269.34,102.47 L270.33,102.21 L271.31,101.97 L272.30,101.72 L273.29,101.49 L274.27,101.25 L275.26,101.03 L276.25,100.81 L277.23,100.59 L278.22,100.38 L279.21,100.18 L280.19,99.98 L281.18,99.78 L282.17,99.59 L283.15,99.41 L284.14,99.23 L285.13,99.05 L286.11,98.87 L287.10,98.71 L288.09,98.54 L289.07,98.38 L290.06,98.22 L291.05,98.07 L292.03,97.92 L293.02,97.77 L294.01,97.63 L294.99,97.49 L295.98,97.35 L296.97,97.22 L297.95,97.09 L298.94,96.96 L299.92,96.83 L300.91,96.71 L301.90,96.59 L302.88,96.47 L303.87,96.36 L304.86,96.25 L305.84,96.14 L306.83,96.03 L307.82,95.93 L308.80,95.83 L309.79,95.73 L310.78,95.63 L311.76,95.54 L312.75,95.44 L313.74,95.35 L314.72,95.26 L315.71,95.18 L316.70,95.09 L317.68,95.01 L318.67,94.93 L319.66,94.85 L320.64,94.77 L321.63,94.69 L322.62,94.62 L323.60,94.54 L324.59,94.47 L325.58,94.40 L326.56,94.33 L327.55,94.27 L328.54,94.20 L329.52,94.14 L330.51,94.08 L331.50,94.01 L332.48,93.95 L333.47,93.90 L334.46,93.84 L335.44,93.78 L336.43,93.73 L337.41,93.67 L338.40,93.62 L339.39,93.57 L340.37,93.52 L341.36,93.47 L342.35,93.42 L343.33,93.37 L344.32,93.33 L345.31,93.28 L346.29,93.24 L347.28,93.19 L348.27,93.15 L349.25,93.11 L350.24,93.07 L351.23,93.03 L352.21,92.99 L353.20,92.95" fill="none" stroke="#68a2d8" stroke-width="1.25" stroke-linejoin="round" />
<path d="M206.20,146.60 L207.19,144.57 L208.17,142.61 L209.16,140.71 L210.15,138.87 L211.13,137.09 L212.12,135.36 L213.11,133.70 L214.09,132.08 L215.08,130.52 L216.07,129.01 L217.05,127.55 L218.04,126.13 L219.03,124.76 L220.01,123.43 L221.00,122.15 L221.99,120.91 L222.97,119.70 L223.96,118.54 L224.94,117.41 L225.93,116.32 L226.92,115.26 L227.90,114.24 L228.89,113.25 L229.88,112.29 L230.86,111.36 L231.85,110.46 L232.84,109.59 L233.82,108.75 L234.81,107.93 L235.80,107.14 L236.78,106.37 L237.77,105.63 L238.76,104.91 L239.74,104.21 L240.73,103.54 L241.72,102.88 L242.70,102.25 L243.69,101.63 L244.68,101.04 L245.66,100.46 L246.65,99.90 L247.64,99.36 L248.62,98.84 L249.61,98.33 L250.60,97.83 L251.58,97.35 L252.57,96.89 L253.56,96.44 L254.54,96.00 L255.53,95.58 L256.52,95.17 L257.50,94.77 L258.49,94.38 L259.48,94.01 L260.46,93.65 L261.45,93.29 L262.43,92.95 L263.42,92.62 L264.41,92.30 L265.39,91.98 L266.38,91.68 L267.37,91.38 L268.35,91.10 L269.34,90.82 L270.33,90.55 L271.31,90.28 L272.30,90.03 L273.29,89.78 L274.27,89.54 L275.26,89.30 L276.25,89.07 L277.23,88.85 L278.22,88.64 L279.21,88.43 L280.19,88.22 L281.18,88.02 L282.17,87.83 L283.15,87.64 L284.14,87.46 L285.13,87.28 L286.11,87.11 L287.10,86.94 L288.09,86.77 L289.07,86.61 L290.06,86.45 L291.05,86.30 L292.03,86.15 L293.02,86.01 L294.01,85.87 L294.99,85.73 L295.98,85.59 L296.97,85.46 L297.95,85.33 L298.94,85.21 L299.92,85.08 L300.91,84.96 L301.90,84.85 L302.88,84.73 L303.87,84.62 L304.86,84.51 L305.84,84.40 L306.83,84.30 L307.82,84.20 L308.80,84.10 L309.79,84.00 L310.78,83.90 L311.76,83.81 L312.75,83.72 L313.74,83.62 L314.72,83.54 L315.71,83.45 L316.70,83.36 L317.68,83.28 L318.67,83.20 L319.66,83.12 L320.64,83.04 L321.63,82.96 L322.62,82.88 L323.60,82.81 L324.59,82.73 L325.58,82.66 L326.56,82.59 L327.55,82.52 L328.54,82.45 L329.52,82.38 L330.51,82.31 L331.50,82.25 L332.48,82.18 L333.47,82.12 L334.46,82.05 L335.44,81.99 L336.43,81.93 L337.41,81.87 L338.40,81.81 L339.39,81.75 L340.37,81.69 L341.36,81.63 L342.35,81.58 L343.33,81.52 L344.32,81.46 L345.31,81.41 L346.29,81.35 L347.28,81.30 L348.27,81.25 L349.25,81.19 L350.24,81.14 L351.23,81.09 L352.21,81.04 L353.20,80.99" fill="none" stroke="#2a7a34" stroke-width="1.25" stroke-linejoin="round" />
<path d="M206.20,146.60 L207.19,143.94 L208.17,141.39 L209.16,138.95 L210.15,136.62 L211.13,134.38 L212.12,132.25 L213.11,130.20 L214.09,128.25 L215.08,126.37 L216.07,124.58 L217.05,122.86 L218.04,121.22 L219.03,119.64 L220.01,118.13 L221.00,116.68 L221.99,115.29 L222.97,113.96 L223.96,112.68 L224.94,111.45 L225.93,110.28 L226.92,109.15 L227.90,108.06 L228.89,107.02 L229.88,106.02 L230.86,105.06 L231.85,104.14 L232.84,103.25 L233.82,102.40 L234.81,101.58 L235.80,100.79 L236.78,100.03 L237.77,99.30 L238.76,98.59 L239.74,97.91 L240.73,97.26 L241.72,96.63 L242.70,96.02 L243.69,95.44 L244.68,94.87 L245.66,94.33 L246.65,93.80 L247.64,93.29 L248.62,92.80 L249.61,92.33 L250.60,91.87 L251.58,91.43 L252.57,91.00 L253.56,90.58 L254.54,90.18 L255.53,89.79 L256.52,89.41 L257.50,89.05 L258.49,88.69 L259.48,88.35 L260.46,88.02 L261.45,87.69 L262.43,87.38 L263.42,87.07 L264.41,86.78 L265.39,86.49 L266.38,86.21 L267.37,85.94 L268.35,85.67 L269.34,85.42 L270.33,85.17 L271.31,84.92 L272.30,84.68 L273.29,84.45 L274.27,84.22 L275.26,84.00 L276.25,83.79 L277.23,83.58 L278.22,83.37 L279.21,83.17 L280.19,82.98 L281.18,82.78 L282.17,82.60 L283.15,82.41 L284.14,82.24 L285.13,82.06 L286.11,81.89 L287.10,81.72 L288.09,81.56 L289.07,81.40 L290.06,81.24 L291.05,81.08 L292.03,80.93 L293.02,80.78 L294.01,80.64 L294.99,80.49 L295.98,80.35 L296.97,80.21 L297.95,80.08 L298.94,79.95 L299.92,79.82 L300.91,79.69 L301.90,79.56 L302.88,79.44 L303.87,79.31 L304.86,79.19 L305.84,79.08 L306.83,78.96 L307.82,78.85 L308.80,78.73 L309.79,78.62 L310.78,78.51 L311.76,78.41 L312.75,78.30 L313.74,78.20 L314.72,78.09 L315.71,77.99 L316.70,77.89 L317.68,77.80 L318.67,77.70 L319.66,77.60 L320.64,77.51 L321.63,77.42 L322.62,77.33 L323.60,77.24 L324.59,77.15 L325.58,77.06 L326.56,76.97 L327.55,76.89 L328.54,76.80 L329.52,76.72 L330.51,76.64 L331.50,76.56 L332.48,76.48 L333.47,76.40 L334.46,76.32 L335.44,76.24 L336.43,76.17 L337.41,76.09 L338.40,76.02 L339.39,75.94 L340.37,75.87 L341.36,75.80 L342.35,75.73 L343.33,75.66 L344.32,75.59 L345.31,75.52 L346.29,75.46 L347.28,75.39 L348.27,75.32 L349.25,75.26 L350.24,75.19 L351.23,75.13 L352.21,75.07 L353.20,75.01" fill="none" stroke="#4a1a52" stroke-width="1.25" stroke-linejoin="round" />
<line x1="208.20" y1="43.60" x2="218.50" y2="43.60" stroke="#333333" stroke-width="1.2" />
<text x="224.80" y="46.60" font-size="10.2" text-anchor="start" fill="#1a1a1a" font-weight="bold" stroke="#1a1a1a" stroke-width="0.15" >ddH<tspan font-size="7.2" dy="1.5">2</tspan><tspan dy="-1.5">O</tspan><tspan font-size="7.2" dy="1.5">2</tspan></text>
<line x1="208.20" y1="51.80" x2="218.50" y2="51.80" stroke="#e58a8a" stroke-width="1.2" />
<text transform="translate(224.80,55.00) scale(1.12,1)" font-size="9.11" text-anchor="start" fill="#1a1a1a" font-weight="bold" stroke="#1a1a1a" stroke-width="0.2">12.5</text>
<line x1="208.20" y1="61.10" x2="218.50" y2="61.10" stroke="#5a5ab8" stroke-width="1.2" />
<text transform="translate(224.80,64.60) scale(1.12,1)" font-size="9.11" text-anchor="start" fill="#1a1a1a" font-weight="bold" stroke="#1a1a1a" stroke-width="0.2">25</text>
<line x1="208.20" y1="70.40" x2="218.50" y2="70.40" stroke="#8a2830" stroke-width="1.2" />
<text transform="translate(224.80,73.60) scale(1.12,1)" font-size="9.11" text-anchor="start" fill="#1a1a1a" font-weight="bold" stroke="#1a1a1a" stroke-width="0.2">50</text>
<line x1="265.70" y1="43.20" x2="275.80" y2="43.20" stroke="#7ab0e0" stroke-width="1.1" />
<text transform="translate(282.50,45.90) scale(1.12,1)" font-size="9.11" text-anchor="start" fill="#1a1a1a" font-weight="bold" stroke="#1a1a1a" stroke-width="0.2">100</text>
<line x1="265.70" y1="51.00" x2="275.80" y2="51.00" stroke="#3a7a3a" stroke-width="1.2" />
<text transform="translate(282.50,54.50) scale(1.12,1)" font-size="9.11" text-anchor="start" fill="#1a1a1a" font-weight="bold" stroke="#1a1a1a" stroke-width="0.2">200</text>
<line x1="305.90" y1="43.20" x2="316.60" y2="43.20" stroke="#5a2a5a" stroke-width="1.1" />
<text transform="translate(322.80,45.90) scale(1.12,1)" font-size="8.93" text-anchor="start" fill="#1a1a1a" font-weight="bold" stroke="#1a1a1a" stroke-width="0.2">400</text>
<text x="309.00" y="54.30" font-size="8.8" text-anchor="start" fill="#1a1a1a" font-weight="bold" stroke="#1a1a1a" stroke-width="0.1" >(μg/mL)</text>
<text x="353.20" y="72.90" font-size="10.2" text-anchor="start" fill="#4a1a52" font-weight="bold" stroke="#4a1a52" stroke-width="0.1" ><tspan font-weight="normal" stroke-width="0">Δ</tspan>T=33.97<tspan font-size="7.6" dy="-4.1" font-weight="normal" stroke-width="0.1">o</tspan><tspan dy="4.1">C</tspan></text>
<text x="353.20" y="84.80" font-size="10.2" text-anchor="start" fill="#2a7a34" font-weight="bold" stroke="#2a7a34" stroke-width="0.1" ><tspan font-weight="normal" stroke-width="0">Δ</tspan>T=31.01<tspan font-size="7.6" dy="-4.1" font-weight="normal" stroke-width="0.1">o</tspan><tspan dy="4.1">C</tspan></text>
<text x="353.20" y="95.40" font-size="10.2" text-anchor="start" fill="#68a2d8" font-weight="bold" stroke="#68a2d8" stroke-width="0.1" ><tspan font-weight="normal" stroke-width="0">Δ</tspan>T=25.54<tspan font-size="7.6" dy="-4.1" font-weight="normal" stroke-width="0.1">o</tspan><tspan dy="4.1">C</tspan></text>
<text x="353.20" y="105.70" font-size="10.2" text-anchor="start" fill="#7a1828" font-weight="bold" stroke="#7a1828" stroke-width="0.1" ><tspan font-weight="normal" stroke-width="0">Δ</tspan>T=22.51<tspan font-size="7.6" dy="-4.1" font-weight="normal" stroke-width="0.1">o</tspan><tspan dy="4.1">C</tspan></text>
<text x="353.20" y="115.70" font-size="10.2" text-anchor="start" fill="#5050b8" font-weight="bold" stroke="#5050b8" stroke-width="0.1" ><tspan font-weight="normal" stroke-width="0">Δ</tspan>T=18.80<tspan font-size="7.6" dy="-4.1" font-weight="normal" stroke-width="0.1">o</tspan><tspan dy="4.1">C</tspan></text>
<text x="353.20" y="127.00" font-size="10.2" text-anchor="start" fill="#e58a8a" font-weight="bold" stroke="#e58a8a" stroke-width="0.1" ><tspan font-weight="normal" stroke-width="0">Δ</tspan>T=15.11<tspan font-size="7.6" dy="-4.1" font-weight="normal" stroke-width="0.1">o</tspan><tspan dy="4.1">C</tspan></text>
<text x="353.20" y="138.90" font-size="10.2" text-anchor="start" fill="#000000" font-weight="bold" stroke="#000000" stroke-width="0.1" ><tspan font-weight="normal" stroke-width="0">Δ</tspan>T=&#160;8.55<tspan font-size="7.6" dy="-4.1" font-weight="normal" stroke-width="0.1">o</tspan><tspan dy="4.1">C</tspan></text>
<line x1="447.30" y1="51.40" x2="447.30" y2="157.60" stroke="#1c1c1c" stroke-width="1.6" />
<line x1="444.30" y1="157.60" x2="447.30" y2="157.60" stroke="#1c1c1c" stroke-width="1.6" />
<text transform="translate(443.50,160.80) scale(1.12,1)" font-size="8.93" text-anchor="end" fill="#1a1a1a" font-weight="bold" stroke="#1a1a1a" stroke-width="0.3">20</text>
<line x1="444.30" y1="136.36" x2="447.30" y2="136.36" stroke="#1c1c1c" stroke-width="1.6" />
<text transform="translate(443.50,139.56) scale(1.12,1)" font-size="8.93" text-anchor="end" fill="#1a1a1a" font-weight="bold" stroke="#1a1a1a" stroke-width="0.3">30</text>
<line x1="444.30" y1="115.12" x2="447.30" y2="115.12" stroke="#1c1c1c" stroke-width="1.6" />
<text transform="translate(443.50,118.32) scale(1.12,1)" font-size="8.93" text-anchor="end" fill="#1a1a1a" font-weight="bold" stroke="#1a1a1a" stroke-width="0.3">40</text>
<line x1="444.30" y1="93.88" x2="447.30" y2="93.88" stroke="#1c1c1c" stroke-width="1.6" />
<text transform="translate(443.50,97.08) scale(1.12,1)" font-size="8.93" text-anchor="end" fill="#1a1a1a" font-weight="bold" stroke="#1a1a1a" stroke-width="0.3">50</text>
<line x1="444.30" y1="72.64" x2="447.30" y2="72.64" stroke="#1c1c1c" stroke-width="1.6" />
<text transform="translate(443.50,75.84) scale(1.12,1)" font-size="8.93" text-anchor="end" fill="#1a1a1a" font-weight="bold" stroke="#1a1a1a" stroke-width="0.3">60</text>
<line x1="444.30" y1="51.40" x2="447.30" y2="51.40" stroke="#1c1c1c" stroke-width="1.6" />
<text transform="translate(443.50,54.60) scale(1.12,1)" font-size="8.93" text-anchor="end" fill="#1a1a1a" font-weight="bold" stroke="#1a1a1a" stroke-width="0.3">70</text>
<line x1="445.50" y1="146.98" x2="447.30" y2="146.98" stroke="#1c1c1c" stroke-width="1.0" />
<line x1="445.50" y1="125.74" x2="447.30" y2="125.74" stroke="#1c1c1c" stroke-width="1.0" />
<line x1="445.50" y1="104.50" x2="447.30" y2="104.50" stroke="#1c1c1c" stroke-width="1.0" />
<line x1="445.50" y1="83.26" x2="447.30" y2="83.26" stroke="#1c1c1c" stroke-width="1.0" />
<line x1="445.50" y1="62.02" x2="447.30" y2="62.02" stroke="#1c1c1c" stroke-width="1.0" />
<line x1="447.30" y1="157.60" x2="608.01" y2="157.60" stroke="#1c1c1c" stroke-width="1.6" />
<line x1="447.30" y1="157.60" x2="447.30" y2="160.60" stroke="#1c1c1c" stroke-width="1.6" />
<text transform="translate(447.30,171.60) scale(1.12,1)" font-size="8.93" text-anchor="middle" fill="#1a1a1a" font-weight="bold" stroke="#1a1a1a" stroke-width="0.3">0</text>
<line x1="476.52" y1="157.60" x2="476.52" y2="160.60" stroke="#1c1c1c" stroke-width="1.6" />
<text transform="translate(476.52,171.60) scale(1.12,1)" font-size="8.93" text-anchor="middle" fill="#1a1a1a" font-weight="bold" stroke="#1a1a1a" stroke-width="0.3">120</text>
<line x1="505.74" y1="157.60" x2="505.74" y2="160.60" stroke="#1c1c1c" stroke-width="1.6" />
<text transform="translate(505.74,171.60) scale(1.12,1)" font-size="8.93" text-anchor="middle" fill="#1a1a1a" font-weight="bold" stroke="#1a1a1a" stroke-width="0.3">240</text>
<line x1="534.96" y1="157.60" x2="534.96" y2="160.60" stroke="#1c1c1c" stroke-width="1.6" />
<text transform="translate(534.96,171.60) scale(1.12,1)" font-size="8.93" text-anchor="middle" fill="#1a1a1a" font-weight="bold" stroke="#1a1a1a" stroke-width="0.3">360</text>
<line x1="564.18" y1="157.60" x2="564.18" y2="160.60" stroke="#1c1c1c" stroke-width="1.6" />
<text transform="translate(564.18,171.60) scale(1.12,1)" font-size="8.93" text-anchor="middle" fill="#1a1a1a" font-weight="bold" stroke="#1a1a1a" stroke-width="0.3">480</text>
<line x1="593.40" y1="157.60" x2="593.40" y2="160.60" stroke="#1c1c1c" stroke-width="1.6" />
<text transform="translate(593.40,171.60) scale(1.12,1)" font-size="8.93" text-anchor="middle" fill="#1a1a1a" font-weight="bold" stroke="#1a1a1a" stroke-width="0.3">600</text>
<line x1="452.17" y1="157.60" x2="452.17" y2="159.40" stroke="#1c1c1c" stroke-width="1.0" />
<line x1="457.04" y1="157.60" x2="457.04" y2="159.40" stroke="#1c1c1c" stroke-width="1.0" />
<line x1="461.91" y1="157.60" x2="461.91" y2="159.40" stroke="#1c1c1c" stroke-width="1.0" />
<line x1="466.78" y1="157.60" x2="466.78" y2="159.40" stroke="#1c1c1c" stroke-width="1.0" />
<line x1="471.65" y1="157.60" x2="471.65" y2="159.40" stroke="#1c1c1c" stroke-width="1.0" />
<line x1="481.39" y1="157.60" x2="481.39" y2="159.40" stroke="#1c1c1c" stroke-width="1.0" />
<line x1="486.26" y1="157.60" x2="486.26" y2="159.40" stroke="#1c1c1c" stroke-width="1.0" />
<line x1="491.13" y1="157.60" x2="491.13" y2="159.40" stroke="#1c1c1c" stroke-width="1.0" />
<line x1="496.00" y1="157.60" x2="496.00" y2="159.40" stroke="#1c1c1c" stroke-width="1.0" />
<line x1="500.87" y1="157.60" x2="500.87" y2="159.40" stroke="#1c1c1c" stroke-width="1.0" />
<line x1="510.61" y1="157.60" x2="510.61" y2="159.40" stroke="#1c1c1c" stroke-width="1.0" />
<line x1="515.48" y1="157.60" x2="515.48" y2="159.40" stroke="#1c1c1c" stroke-width="1.0" />
<line x1="520.35" y1="157.60" x2="520.35" y2="159.40" stroke="#1c1c1c" stroke-width="1.0" />
<line x1="525.22" y1="157.60" x2="525.22" y2="159.40" stroke="#1c1c1c" stroke-width="1.0" />
<line x1="530.09" y1="157.60" x2="530.09" y2="159.40" stroke="#1c1c1c" stroke-width="1.0" />
<line x1="539.83" y1="157.60" x2="539.83" y2="159.40" stroke="#1c1c1c" stroke-width="1.0" />
<line x1="544.70" y1="157.60" x2="544.70" y2="159.40" stroke="#1c1c1c" stroke-width="1.0" />
<line x1="549.57" y1="157.60" x2="549.57" y2="159.40" stroke="#1c1c1c" stroke-width="1.0" />
<line x1="554.44" y1="157.60" x2="554.44" y2="159.40" stroke="#1c1c1c" stroke-width="1.0" />
<line x1="559.31" y1="157.60" x2="559.31" y2="159.40" stroke="#1c1c1c" stroke-width="1.0" />
<line x1="569.05" y1="157.60" x2="569.05" y2="159.40" stroke="#1c1c1c" stroke-width="1.0" />
<line x1="573.92" y1="157.60" x2="573.92" y2="159.40" stroke="#1c1c1c" stroke-width="1.0" />
<line x1="578.79" y1="157.60" x2="578.79" y2="159.40" stroke="#1c1c1c" stroke-width="1.0" />
<line x1="583.66" y1="157.60" x2="583.66" y2="159.40" stroke="#1c1c1c" stroke-width="1.0" />
<line x1="588.53" y1="157.60" x2="588.53" y2="159.40" stroke="#1c1c1c" stroke-width="1.0" />
<line x1="598.27" y1="157.60" x2="598.27" y2="159.40" stroke="#1c1c1c" stroke-width="1.0" />
<line x1="603.14" y1="157.60" x2="603.14" y2="159.40" stroke="#1c1c1c" stroke-width="1.0" />
<text x="526.00" y="183.00" font-size="9.6" text-anchor="middle" fill="#1a1a1a" font-weight="bold" stroke="#1a1a1a" stroke-width="0.3" >Time (s)</text>
<text x="0" y="0" font-size="10" text-anchor="middle" fill="#1a1a1a" stroke="#1a1a1a" stroke-width="0.3" font-weight="bold" transform="translate(425.00,103.60) rotate(-90)" dominant-baseline="central">Temperature (°C)</text>
<path d="M447.80,146.20 L448.78,145.87 L449.76,145.54 L450.74,145.21 L451.72,144.88 L452.70,144.55 L453.68,144.22 L454.66,143.90 L455.64,143.58 L456.62,143.25 L457.60,142.93 L458.58,142.61 L459.56,142.29 L460.54,141.96 L461.52,141.64 L462.50,141.32 L463.48,140.99 L464.46,140.68 L465.44,140.36 L466.42,140.05 L467.40,139.75 L468.38,139.45 L469.36,139.16 L470.34,138.88 L471.32,138.61 L472.30,138.34 L473.28,138.08 L474.26,137.82 L475.24,137.57 L476.22,137.32 L477.20,137.07 L478.18,136.83 L479.16,136.58 L480.14,136.34 L481.12,136.09 L482.10,135.85 L483.08,135.60 L484.06,135.36 L485.04,135.11 L486.02,134.86 L487.00,134.62 L487.98,134.37 L488.96,134.13 L489.94,133.90 L490.92,133.66 L491.90,133.43 L492.88,133.21 L493.86,132.99 L494.84,132.77 L495.82,132.55 L496.80,132.34 L497.78,132.12 L498.76,131.91 L499.74,131.70 L500.72,131.50 L501.70,131.31 L502.68,131.12 L503.66,130.95 L504.64,130.78 L505.62,130.63 L506.60,130.49 L507.58,130.36 L508.56,130.23 L509.54,130.10 L510.52,129.99 L511.50,129.87 L512.48,129.76 L513.46,129.65 L514.44,129.55 L515.42,129.45 L516.40,129.35 L517.38,129.25 L518.36,129.16 L519.34,129.06 L520.32,128.96 L521.29,128.87 L522.27,128.77 L523.25,128.68 L524.23,128.58 L525.21,128.48 L526.19,128.38 L527.17,128.28 L528.15,128.18 L529.13,128.07 L530.11,127.97 L531.09,127.87 L532.07,127.77 L533.05,127.67 L534.03,127.57 L535.01,127.47 L535.99,127.37 L536.97,127.27 L537.95,127.17 L538.93,127.07 L539.91,126.97 L540.89,126.88 L541.87,126.78 L542.85,126.68 L543.83,126.59 L544.81,126.49 L545.79,126.40 L546.77,126.30 L547.75,126.21 L548.73,126.12 L549.71,126.03 L550.69,125.94 L551.67,125.85 L552.65,125.76 L553.63,125.67 L554.61,125.58 L555.59,125.50 L556.57,125.41 L557.55,125.32 L558.53,125.24 L559.51,125.15 L560.49,125.07 L561.47,124.99 L562.45,124.90 L563.43,124.82 L564.41,124.74 L565.39,124.65 L566.37,124.57 L567.35,124.49 L568.33,124.40 L569.31,124.32 L570.29,124.23 L571.27,124.15 L572.25,124.07 L573.23,123.98 L574.21,123.90 L575.19,123.82 L576.17,123.73 L577.15,123.65 L578.13,123.56 L579.11,123.48 L580.09,123.40 L581.07,123.31 L582.05,123.23 L583.03,123.15 L584.01,123.07 L584.99,122.98 L585.97,122.90 L586.95,122.82 L587.93,122.73 L588.91,122.65 L589.89,122.57 L590.87,122.49 L591.85,122.41 L592.83,122.32 L593.81,122.26" fill="none" stroke="#3a3a3a" stroke-width="1.1" stroke-linejoin="round" stroke-dasharray="1.1 2.0"/>
<path d="M447.80,146.20 L448.78,145.79 L449.76,145.38 L450.74,144.97 L451.72,144.57 L452.70,144.17 L453.68,143.78 L454.66,143.39 L455.64,143.01 L456.62,142.63 L457.60,142.25 L458.58,141.88 L459.56,141.52 L460.54,141.16 L461.52,140.80 L462.50,140.44 L463.48,140.09 L464.46,139.74 L465.44,139.40 L466.42,139.06 L467.40,138.73 L468.38,138.40 L469.36,138.08 L470.34,137.76 L471.32,137.44 L472.30,137.13 L473.28,136.82 L474.26,136.52 L475.24,136.22 L476.22,135.92 L477.20,135.63 L478.18,135.34 L479.16,135.06 L480.14,134.79 L481.12,134.52 L482.10,134.25 L483.08,133.99 L484.06,133.74 L485.04,133.49 L486.02,133.25 L487.00,133.01 L487.98,132.78 L488.96,132.54 L489.94,132.31 L490.92,132.08 L491.90,131.85 L492.88,131.62 L493.86,131.38 L494.84,131.15 L495.82,130.91 L496.80,130.67 L497.78,130.43 L498.76,130.19 L499.74,129.95 L500.72,129.72 L501.70,129.49 L502.68,129.26 L503.66,129.05 L504.64,128.84 L505.62,128.64 L506.60,128.45 L507.58,128.27 L508.56,128.09 L509.54,127.92 L510.52,127.75 L511.50,127.58 L512.48,127.42 L513.46,127.26 L514.44,127.11 L515.42,126.96 L516.40,126.80 L517.38,126.65 L518.36,126.50 L519.34,126.34 L520.32,126.19 L521.29,126.04 L522.27,125.89 L523.25,125.75 L524.23,125.62 L525.21,125.50 L526.19,125.38 L527.17,125.28 L528.15,125.18 L529.13,125.08 L530.11,124.99 L531.09,124.90 L532.07,124.81 L533.05,124.73 L534.03,124.65 L535.01,124.57 L535.99,124.49 L536.97,124.42 L537.95,124.34 L538.93,124.27 L539.91,124.20 L540.89,124.12 L541.87,124.05 L542.85,123.98 L543.83,123.90 L544.81,123.83 L545.79,123.75 L546.77,123.67 L547.75,123.59 L548.73,123.51 L549.71,123.42 L550.69,123.34 L551.67,123.25 L552.65,123.16 L553.63,123.06 L554.61,122.97 L555.59,122.88 L556.57,122.78 L557.55,122.69 L558.53,122.59 L559.51,122.50 L560.49,122.40 L561.47,122.30 L562.45,122.21 L563.43,122.11 L564.41,122.01 L565.39,121.92 L566.37,121.82 L567.35,121.72 L568.33,121.63 L569.31,121.53 L570.29,121.44 L571.27,121.35 L572.25,121.25 L573.23,121.16 L574.21,121.07 L575.19,120.98 L576.17,120.88 L577.15,120.79 L578.13,120.70 L579.11,120.61 L580.09,120.51 L581.07,120.42 L582.05,120.33 L583.03,120.24 L584.01,120.15 L584.99,120.06 L585.97,119.97 L586.95,119.88 L587.93,119.79 L588.91,119.70 L589.89,119.60 L590.87,119.51 L591.85,119.42 L592.83,119.33 L593.81,119.26" fill="none" stroke="#a47a44" stroke-width="1.15" stroke-linejoin="round" />
<path d="M447.80,146.20 L448.78,145.57 L449.76,144.92 L450.74,144.27 L451.72,143.61 L452.70,142.94 L453.68,142.25 L454.66,141.56 L455.64,140.86 L456.62,140.13 L457.60,139.39 L458.58,138.64 L459.56,137.91 L460.54,137.20 L461.52,136.53 L462.50,135.88 L463.48,135.26 L464.46,134.65 L465.44,134.05 L466.42,133.46 L467.40,132.88 L468.38,132.30 L469.36,131.72 L470.34,131.14 L471.32,130.57 L472.30,130.00 L473.28,129.44 L474.26,128.89 L475.24,128.35 L476.22,127.82 L477.20,127.29 L478.18,126.77 L479.16,126.26 L480.14,125.76 L481.12,125.28 L482.10,124.83 L483.08,124.39 L484.06,123.99 L485.04,123.60 L486.02,123.24 L487.00,122.89 L487.98,122.56 L488.96,122.23 L489.94,121.91 L490.92,121.59 L491.90,121.26 L492.88,120.92 L493.86,120.57 L494.84,120.21 L495.82,119.85 L496.80,119.48 L497.78,119.10 L498.76,118.73 L499.74,118.35 L500.72,117.99 L501.70,117.62 L502.68,117.26 L503.66,116.90 L504.64,116.54 L505.62,116.17 L506.60,115.80 L507.58,115.43 L508.56,115.05 L509.54,114.67 L510.52,114.29 L511.50,113.92 L512.48,113.54 L513.46,113.17 L514.44,112.80 L515.42,112.43 L516.40,112.07 L517.38,111.72 L518.36,111.37 L519.34,111.02 L520.32,110.69 L521.29,110.36 L522.27,110.05 L523.25,109.75 L524.23,109.45 L525.21,109.17 L526.19,108.91 L527.17,108.65 L528.15,108.41 L529.13,108.19 L530.11,107.98 L531.09,107.79 L532.07,107.60 L533.05,107.42 L534.03,107.25 L535.01,107.09 L535.99,106.93 L536.97,106.78 L537.95,106.63 L538.93,106.49 L539.91,106.35 L540.89,106.21 L541.87,106.08 L542.85,105.95 L543.83,105.82 L544.81,105.69 L545.79,105.56 L546.77,105.43 L547.75,105.30 L548.73,105.17 L549.71,105.04 L550.69,104.91 L551.67,104.77 L552.65,104.64 L553.63,104.51 L554.61,104.39 L555.59,104.26 L556.57,104.14 L557.55,104.01 L558.53,103.89 L559.51,103.77 L560.49,103.64 L561.47,103.52 L562.45,103.40 L563.43,103.28 L564.41,103.16 L565.39,103.05 L566.37,102.93 L567.35,102.81 L568.33,102.69 L569.31,102.57 L570.29,102.45 L571.27,102.33 L572.25,102.21 L573.23,102.09 L574.21,101.97 L575.19,101.85 L576.17,101.74 L577.15,101.62 L578.13,101.50 L579.11,101.38 L580.09,101.27 L581.07,101.15 L582.05,101.03 L583.03,100.92 L584.01,100.80 L584.99,100.68 L585.97,100.57 L586.95,100.45 L587.93,100.34 L588.91,100.22 L589.89,100.11 L590.87,100.00 L591.85,99.88 L592.83,99.77 L593.81,99.68" fill="none" stroke="#3a3a3a" stroke-width="1.1" stroke-linejoin="round" stroke-dasharray="1.1 2.0"/>
<path d="M447.80,146.20 L448.78,145.30 L449.76,144.41 L450.74,143.52 L451.72,142.63 L452.70,141.73 L453.68,140.84 L454.66,139.95 L455.64,139.05 L456.62,138.14 L457.60,137.21 L458.58,136.30 L459.56,135.44 L460.54,134.64 L461.52,133.92 L462.50,133.27 L463.48,132.67 L464.46,132.10 L465.44,131.55 L466.42,131.01 L467.40,130.46 L468.38,129.91 L469.36,129.32 L470.34,128.69 L471.32,128.02 L472.30,127.34 L473.28,126.65 L474.26,125.99 L475.24,125.38 L476.22,124.83 L477.20,124.31 L478.18,123.83 L479.16,123.37 L480.14,122.92 L481.12,122.49 L482.10,122.07 L483.08,121.65 L484.06,121.23 L485.04,120.80 L486.02,120.37 L487.00,119.94 L487.98,119.52 L488.96,119.10 L489.94,118.68 L490.92,118.26 L491.90,117.83 L492.88,117.41 L493.86,116.97 L494.84,116.53 L495.82,116.08 L496.80,115.63 L497.78,115.18 L498.76,114.74 L499.74,114.30 L500.72,113.87 L501.70,113.46 L502.68,113.05 L503.66,112.64 L504.64,112.24 L505.62,111.83 L506.60,111.42 L507.58,111.01 L508.56,110.60 L509.54,110.19 L510.52,109.79 L511.50,109.38 L512.48,108.98 L513.46,108.58 L514.44,108.19 L515.42,107.80 L516.40,107.42 L517.38,107.04 L518.36,106.68 L519.34,106.32 L520.32,105.97 L521.29,105.63 L522.27,105.31 L523.25,104.99 L524.23,104.69 L525.21,104.40 L526.19,104.13 L527.17,103.87 L528.15,103.62 L529.13,103.39 L530.11,103.18 L531.09,102.98 L532.07,102.79 L533.05,102.61 L534.03,102.44 L535.01,102.28 L535.99,102.12 L536.97,101.97 L537.95,101.82 L538.93,101.68 L539.91,101.54 L540.89,101.40 L541.87,101.27 L542.85,101.14 L543.83,101.01 L544.81,100.88 L545.79,100.76 L546.77,100.63 L547.75,100.50 L548.73,100.37 L549.71,100.24 L550.69,100.11 L551.67,99.97 L552.65,99.84 L553.63,99.71 L554.61,99.59 L555.59,99.46 L556.57,99.34 L557.55,99.21 L558.53,99.09 L559.51,98.97 L560.49,98.84 L561.47,98.72 L562.45,98.60 L563.43,98.48 L564.41,98.36 L565.39,98.25 L566.37,98.13 L567.35,98.01 L568.33,97.89 L569.31,97.77 L570.29,97.65 L571.27,97.53 L572.25,97.41 L573.23,97.29 L574.21,97.17 L575.19,97.05 L576.17,96.94 L577.15,96.82 L578.13,96.70 L579.11,96.58 L580.09,96.47 L581.07,96.35 L582.05,96.23 L583.03,96.12 L584.01,96.00 L584.99,95.88 L585.97,95.77 L586.95,95.65 L587.93,95.54 L588.91,95.42 L589.89,95.31 L590.87,95.20 L591.85,95.08 L592.83,94.97 L593.81,94.88" fill="none" stroke="#3a3a3a" stroke-width="1.1" stroke-linejoin="round" stroke-dasharray="1.1 2.0"/>
<path d="M447.80,146.20 L448.78,145.18 L449.76,144.14 L450.74,143.10 L451.72,142.03 L452.70,140.96 L453.68,139.87 L454.66,138.76 L455.64,137.61 L456.62,136.44 L457.60,135.24 L458.58,134.05 L459.56,132.90 L460.54,131.81 L461.52,130.79 L462.50,129.81 L463.48,128.88 L464.46,127.98 L465.44,127.10 L466.42,126.24 L467.40,125.40 L468.38,124.57 L469.36,123.75 L470.34,122.95 L471.32,122.17 L472.30,121.40 L473.28,120.64 L474.26,119.91 L475.24,119.20 L476.22,118.50 L477.20,117.83 L478.18,117.17 L479.16,116.52 L480.14,115.89 L481.12,115.27 L482.10,114.66 L483.08,114.06 L484.06,113.47 L485.04,112.89 L486.02,112.32 L487.00,111.76 L487.98,111.21 L488.96,110.66 L489.94,110.12 L490.92,109.58 L491.90,109.05 L492.88,108.51 L493.86,107.97 L494.84,107.44 L495.82,106.90 L496.80,106.37 L497.78,105.84 L498.76,105.32 L499.74,104.80 L500.72,104.30 L501.70,103.80 L502.68,103.31 L503.66,102.83 L504.64,102.33 L505.62,101.84 L506.60,101.33 L507.58,100.83 L508.56,100.32 L509.54,99.81 L510.52,99.30 L511.50,98.79 L512.48,98.29 L513.46,97.79 L514.44,97.30 L515.42,96.82 L516.40,96.34 L517.38,95.88 L518.36,95.42 L519.34,94.98 L520.32,94.56 L521.29,94.15 L522.27,93.76 L523.25,93.38 L524.23,93.03 L525.21,92.69 L526.19,92.38 L527.17,92.10 L528.15,91.83 L529.13,91.60 L530.11,91.39 L531.09,91.19 L532.07,91.02 L533.05,90.85 L534.03,90.70 L535.01,90.55 L535.99,90.41 L536.97,90.28 L537.95,90.15 L538.93,90.03 L539.91,89.92 L540.89,89.80 L541.87,89.69 L542.85,89.58 L543.83,89.47 L544.81,89.35 L545.79,89.24 L546.77,89.12 L547.75,89.00 L548.73,88.87 L549.71,88.74 L550.69,88.60 L551.67,88.46 L552.65,88.31 L553.63,88.16 L554.61,88.01 L555.59,87.86 L556.57,87.71 L557.55,87.55 L558.53,87.40 L559.51,87.24 L560.49,87.09 L561.47,86.94 L562.45,86.78 L563.43,86.63 L564.41,86.48 L565.39,86.34 L566.37,86.19 L567.35,86.05 L568.33,85.92 L569.31,85.78 L570.29,85.65 L571.27,85.53 L572.25,85.40 L573.23,85.28 L574.21,85.16 L575.19,85.04 L576.17,84.92 L577.15,84.80 L578.13,84.69 L579.11,84.57 L580.09,84.46 L581.07,84.35 L582.05,84.24 L583.03,84.13 L584.01,84.02 L584.99,83.92 L585.97,83.81 L586.95,83.71 L587.93,83.61 L588.91,83.51 L589.89,83.41 L590.87,83.32 L591.85,83.23 L592.83,83.13 L593.81,83.06" fill="none" stroke="#3a3a3a" stroke-width="1.1" stroke-linejoin="round" stroke-dasharray="1.1 2.0"/>
<path d="M447.80,146.20 L448.78,144.68 L449.76,143.36 L450.74,142.11 L451.72,140.99 L452.70,139.97 L453.68,139.00 L454.66,138.02 L455.64,137.02 L456.62,136.01 L457.60,135.02 L458.58,134.06 L459.56,133.14 L460.54,132.25 L461.52,131.37 L462.50,130.51 L463.48,129.66 L464.46,128.82 L465.44,127.98 L466.42,127.14 L467.40,126.30 L468.38,125.45 L469.36,124.58 L470.34,123.71 L471.32,122.83 L472.30,121.97 L473.28,121.14 L474.26,120.35 L475.24,119.62 L476.22,118.94 L477.20,118.30 L478.18,117.70 L479.16,117.13 L480.14,116.58 L481.12,116.03 L482.10,115.49 L483.08,114.93 L484.06,114.38 L485.04,113.81 L486.02,113.24 L487.00,112.67 L487.98,112.11 L488.96,111.55 L489.94,111.00 L490.92,110.46 L491.90,109.93 L492.88,109.42 L493.86,108.91 L494.84,108.41 L495.82,107.91 L496.80,107.42 L497.78,106.94 L498.76,106.48 L499.74,106.04 L500.72,105.62 L501.70,105.24 L502.68,104.87 L503.66,104.53 L504.64,104.19 L505.62,103.85 L506.60,103.53 L507.58,103.21 L508.56,102.89 L509.54,102.59 L510.52,102.28 L511.50,101.99 L512.48,101.70 L513.46,101.41 L514.44,101.14 L515.42,100.86 L516.40,100.60 L517.38,100.34 L518.36,100.09 L519.34,99.84 L520.32,99.60 L521.29,99.37 L522.27,99.15 L523.25,98.93 L524.23,98.71 L525.21,98.51 L526.19,98.31 L527.17,98.12 L528.15,97.93 L529.13,97.75 L530.11,97.58 L531.09,97.42 L532.07,97.25 L533.05,97.09 L534.03,96.93 L535.01,96.78 L535.99,96.63 L536.97,96.49 L537.95,96.34 L538.93,96.21 L539.91,96.07 L540.89,95.95 L541.87,95.82 L542.85,95.70 L543.83,95.59 L544.81,95.48 L545.79,95.38 L546.77,95.28 L547.75,95.19 L548.73,95.10 L549.71,95.02 L550.69,94.95 L551.67,94.88 L552.65,94.81 L553.63,94.75 L554.61,94.69 L555.59,94.63 L556.57,94.58 L557.55,94.53 L558.53,94.47 L559.51,94.42 L560.49,94.38 L561.47,94.33 L562.45,94.28 L563.43,94.24 L564.41,94.19 L565.39,94.15 L566.37,94.10 L567.35,94.06 L568.33,94.01 L569.31,93.97 L570.29,93.92 L571.27,93.87 L572.25,93.82 L573.23,93.77 L574.21,93.73 L575.19,93.68 L576.17,93.63 L577.15,93.58 L578.13,93.54 L579.11,93.49 L580.09,93.44 L581.07,93.40 L582.05,93.35 L583.03,93.31 L584.01,93.26 L584.99,93.22 L585.97,93.17 L586.95,93.13 L587.93,93.08 L588.91,93.04 L589.89,92.99 L590.87,92.95 L591.85,92.91 L592.83,92.86 L593.81,92.83" fill="none" stroke="#206620" stroke-width="1.15" stroke-linejoin="round" />
<path d="M447.80,146.20 L448.78,144.26 L449.76,142.63 L450.74,141.13 L451.72,139.85 L452.70,138.71 L453.68,137.64 L454.66,136.52 L455.64,135.33 L456.62,134.11 L457.60,132.94 L458.58,131.88 L459.56,130.92 L460.54,130.03 L461.52,129.14 L462.50,128.24 L463.48,127.34 L464.46,126.44 L465.44,125.54 L466.42,124.66 L467.40,123.78 L468.38,122.92 L469.36,122.07 L470.34,121.23 L471.32,120.41 L472.30,119.60 L473.28,118.81 L474.26,118.04 L475.24,117.31 L476.22,116.60 L477.20,115.92 L478.18,115.26 L479.16,114.62 L480.14,113.99 L481.12,113.38 L482.10,112.77 L483.08,112.16 L484.06,111.56 L485.04,110.97 L486.02,110.38 L487.00,109.80 L487.98,109.22 L488.96,108.65 L489.94,108.08 L490.92,107.52 L491.90,106.97 L492.88,106.41 L493.86,105.85 L494.84,105.29 L495.82,104.73 L496.80,104.17 L497.78,103.62 L498.76,103.08 L499.74,102.56 L500.72,102.06 L501.70,101.59 L502.68,101.14 L503.66,100.70 L504.64,100.27 L505.62,99.84 L506.60,99.42 L507.58,99.00 L508.56,98.58 L509.54,98.17 L510.52,97.76 L511.50,97.36 L512.48,96.96 L513.46,96.58 L514.44,96.19 L515.42,95.82 L516.40,95.46 L517.38,95.10 L518.36,94.75 L519.34,94.42 L520.32,94.09 L521.29,93.77 L522.27,93.47 L523.25,93.17 L524.23,92.89 L525.21,92.62 L526.19,92.37 L527.17,92.12 L528.15,91.90 L529.13,91.68 L530.11,91.48 L531.09,91.30 L532.07,91.12 L533.05,90.95 L534.03,90.78 L535.01,90.63 L535.99,90.47 L536.97,90.33 L537.95,90.19 L538.93,90.06 L539.91,89.93 L540.89,89.80 L541.87,89.67 L542.85,89.55 L543.83,89.43 L544.81,89.32 L545.79,89.20 L546.77,89.08 L547.75,88.97 L548.73,88.85 L549.71,88.73 L550.69,88.62 L551.67,88.50 L552.65,88.38 L553.63,88.27 L554.61,88.15 L555.59,88.04 L556.57,87.93 L557.55,87.82 L558.53,87.71 L559.51,87.60 L560.49,87.50 L561.47,87.39 L562.45,87.29 L563.43,87.19 L564.41,87.09 L565.39,86.99 L566.37,86.90 L567.35,86.80 L568.33,86.71 L569.31,86.62 L570.29,86.54 L571.27,86.45 L572.25,86.37 L573.23,86.29 L574.21,86.20 L575.19,86.12 L576.17,86.04 L577.15,85.96 L578.13,85.89 L579.11,85.81 L580.09,85.73 L581.07,85.66 L582.05,85.59 L583.03,85.52 L584.01,85.45 L584.99,85.38 L585.97,85.31 L586.95,85.24 L587.93,85.18 L588.91,85.12 L589.89,85.06 L590.87,85.00 L591.85,84.94 L592.83,84.88 L593.81,84.84" fill="none" stroke="#8a1c26" stroke-width="1.15" stroke-linejoin="round" />
<path d="M447.80,146.20 L448.78,143.25 L449.76,140.43 L450.74,137.63 L451.72,134.92 L452.70,132.35 L453.68,129.94 L454.66,127.72 L455.64,125.65 L456.62,123.72 L457.60,121.91 L458.58,120.22 L459.56,118.62 L460.54,117.11 L461.52,115.67 L462.50,114.31 L463.48,113.01 L464.46,111.77 L465.44,110.59 L466.42,109.45 L467.40,108.35 L468.38,107.30 L469.36,106.30 L470.34,105.34 L471.32,104.43 L472.30,103.57 L473.28,102.75 L474.26,101.97 L475.24,101.22 L476.22,100.47 L477.20,99.72 L478.18,98.94 L479.16,98.15 L480.14,97.34 L481.12,96.52 L482.10,95.72 L483.08,94.94 L484.06,94.19 L485.04,93.46 L486.02,92.74 L487.00,92.03 L487.98,91.33 L488.96,90.66 L489.94,90.01 L490.92,89.39 L491.90,88.79 L492.88,88.23 L493.86,87.69 L494.84,87.17 L495.82,86.67 L496.80,86.18 L497.78,85.72 L498.76,85.27 L499.74,84.84 L500.72,84.43 L501.70,84.04 L502.68,83.66 L503.66,83.29 L504.64,82.93 L505.62,82.58 L506.60,82.23 L507.58,81.89 L508.56,81.55 L509.54,81.22 L510.52,80.89 L511.50,80.57 L512.48,80.26 L513.46,79.95 L514.44,79.64 L515.42,79.34 L516.40,79.05 L517.38,78.76 L518.36,78.48 L519.34,78.20 L520.32,77.93 L521.29,77.66 L522.27,77.40 L523.25,77.14 L524.23,76.89 L525.21,76.64 L526.19,76.40 L527.17,76.16 L528.15,75.93 L529.13,75.70 L530.11,75.48 L531.09,75.25 L532.07,75.03 L533.05,74.82 L534.03,74.60 L535.01,74.39 L535.99,74.18 L536.97,73.97 L537.95,73.77 L538.93,73.57 L539.91,73.38 L540.89,73.19 L541.87,73.01 L542.85,72.84 L543.83,72.67 L544.81,72.51 L545.79,72.36 L546.77,72.21 L547.75,72.08 L548.73,71.95 L549.71,71.84 L550.69,71.73 L551.67,71.63 L552.65,71.53 L553.63,71.44 L554.61,71.36 L555.59,71.28 L556.57,71.20 L557.55,71.12 L558.53,71.05 L559.51,70.98 L560.49,70.91 L561.47,70.85 L562.45,70.78 L563.43,70.71 L564.41,70.65 L565.39,70.58 L566.37,70.52 L567.35,70.45 L568.33,70.38 L569.31,70.31 L570.29,70.23 L571.27,70.15 L572.25,70.08 L573.23,70.00 L574.21,69.92 L575.19,69.84 L576.17,69.77 L577.15,69.69 L578.13,69.61 L579.11,69.53 L580.09,69.45 L581.07,69.37 L582.05,69.30 L583.03,69.22 L584.01,69.14 L584.99,69.06 L585.97,68.98 L586.95,68.90 L587.93,68.82 L588.91,68.74 L589.89,68.66 L590.87,68.58 L591.85,68.50 L592.83,68.42 L593.81,68.36" fill="none" stroke="#5252c6" stroke-width="1.15" stroke-linejoin="round" />
<line x1="449.00" y1="43.40" x2="460.60" y2="43.40" stroke="#a47a44" stroke-width="1.3" />
<text x="463.10" y="47.10" font-size="9.5" text-anchor="start" fill="#1a1a1a" font-weight="bold" stroke="#1a1a1a" stroke-width="0.3" >0.5 W/cm<tspan font-size="7.2" dy="-4">2</tspan></text>
<line x1="449.00" y1="52.60" x2="460.60" y2="52.60" stroke="#206620" stroke-width="1.3" />
<text x="463.10" y="56.30" font-size="9.5" text-anchor="start" fill="#1a1a1a" font-weight="bold" stroke="#1a1a1a" stroke-width="0.3" >1.0 W/cm<tspan font-size="7.2" dy="-4">2</tspan></text>
<line x1="449.00" y1="62.20" x2="460.60" y2="62.20" stroke="#8a1c26" stroke-width="1.3" />
<text x="463.10" y="65.90" font-size="9.5" text-anchor="start" fill="#1a1a1a" font-weight="bold" stroke="#1a1a1a" stroke-width="0.3" >1.5 W/cm<tspan font-size="7.2" dy="-4">2</tspan></text>
<line x1="449.00" y1="71.20" x2="460.60" y2="71.20" stroke="#5252c6" stroke-width="1.3" />
<text x="463.10" y="74.90" font-size="9.5" text-anchor="start" fill="#1a1a1a" font-weight="bold" stroke="#1a1a1a" stroke-width="0.3" >2.0 W/cm<tspan font-size="7.2" dy="-4">2</tspan></text>
<line x1="510.00" y1="43.10" x2="521.00" y2="43.10" stroke="#333" stroke-width="1.1" stroke-dasharray="1 1.8"/>
<text x="524.80" y="46.80" font-size="9.8" text-anchor="start" fill="#1a1a1a" font-weight="bold" stroke="#1a1a1a" stroke-width="0.3" >50 μg/mL</text>
<line x1="569.50" y1="43.10" x2="582.00" y2="43.10" stroke="#222" stroke-width="1.3" />
<text x="584.00" y="46.80" font-size="9.75" text-anchor="start" fill="#1a1a1a" font-weight="bold" stroke="#1a1a1a" stroke-width="0.3" >100 μg/mL</text>
<line x1="598.50" y1="60.10" x2="608.20" y2="60.10" stroke="#5252c6" stroke-width="1.3" />
<text x="609.20" y="63.60" font-size="9.8" text-anchor="start" fill="#5252c6" font-weight="bold" stroke="#5252c6" stroke-width="0.1" ><tspan font-weight="normal" stroke-width="0">Δ</tspan>T=36.86<tspan font-size="7.3" dy="-3.9" font-weight="normal" stroke-width="0.1">o</tspan><tspan dy="3.9">C</tspan></text>
<line x1="598.50" y1="68.10" x2="608.20" y2="68.10" stroke="#555" stroke-width="1.0" stroke-dasharray="1 1.8"/>
<text x="609.20" y="71.60" font-size="9.8" text-anchor="start" fill="#5252c6" font-weight="bold" stroke="#5252c6" stroke-width="0.1" ><tspan font-weight="normal" stroke-width="0">Δ</tspan>T=29.95<tspan font-size="7.3" dy="-3.9" font-weight="normal" stroke-width="0.1">o</tspan><tspan dy="3.9">C</tspan></text>
<line x1="598.50" y1="78.50" x2="608.20" y2="78.50" stroke="#8a1c26" stroke-width="1.3" />
<text x="609.20" y="82.00" font-size="9.8" text-anchor="start" fill="#8a1c26" font-weight="bold" stroke="#8a1c26" stroke-width="0.1" ><tspan font-weight="normal" stroke-width="0">Δ</tspan>T=29.19<tspan font-size="7.3" dy="-3.9" font-weight="normal" stroke-width="0.1">o</tspan><tspan dy="3.9">C</tspan></text>
<line x1="598.50" y1="86.70" x2="608.20" y2="86.70" stroke="#555" stroke-width="1.0" stroke-dasharray="1 1.8"/>
<text x="609.20" y="90.20" font-size="9.8" text-anchor="start" fill="#8a1c26" font-weight="bold" stroke="#8a1c26" stroke-width="0.1" ><tspan font-weight="normal" stroke-width="0">Δ</tspan>T=24.65<tspan font-size="7.3" dy="-3.9" font-weight="normal" stroke-width="0.1">o</tspan><tspan dy="3.9">C</tspan></text>
<line x1="598.50" y1="95.30" x2="608.20" y2="95.30" stroke="#206620" stroke-width="1.3" />
<text x="609.20" y="98.80" font-size="9.8" text-anchor="start" fill="#206620" font-weight="bold" stroke="#206620" stroke-width="0.1" ><tspan font-weight="normal" stroke-width="0">Δ</tspan>T=25.24<tspan font-size="7.3" dy="-3.9" font-weight="normal" stroke-width="0.1">o</tspan><tspan dy="3.9">C</tspan></text>
<line x1="598.50" y1="105.00" x2="608.20" y2="105.00" stroke="#555" stroke-width="1.0" stroke-dasharray="1 1.8"/>
<text x="609.20" y="108.50" font-size="9.8" text-anchor="start" fill="#206620" font-weight="bold" stroke="#206620" stroke-width="0.1" ><tspan font-weight="normal" stroke-width="0">Δ</tspan>T=22.50<tspan font-size="7.3" dy="-3.9" font-weight="normal" stroke-width="0.1">o</tspan><tspan dy="3.9">C</tspan></text>
<line x1="598.50" y1="115.10" x2="608.20" y2="115.10" stroke="#a47a44" stroke-width="1.3" />
<text x="609.20" y="118.60" font-size="9.8" text-anchor="start" fill="#a47a44" font-weight="bold" stroke="#a47a44" stroke-width="0.1" ><tspan font-weight="normal" stroke-width="0">Δ</tspan>T=12.88<tspan font-size="7.3" dy="-3.9" font-weight="normal" stroke-width="0.1">o</tspan><tspan dy="3.9">C</tspan></text>
<line x1="598.50" y1="122.80" x2="608.20" y2="122.80" stroke="#555" stroke-width="1.0" stroke-dasharray="1 1.8"/>
<text x="609.20" y="126.30" font-size="9.8" text-anchor="start" fill="#a47a44" font-weight="bold" stroke="#a47a44" stroke-width="0.1" ><tspan font-weight="normal" stroke-width="0">Δ</tspan>T=11.63<tspan font-size="7.3" dy="-3.9" font-weight="normal" stroke-width="0.1">o</tspan><tspan dy="3.9">C</tspan></text>
<line x1="32.30" y1="228.60" x2="32.30" y2="341.10" stroke="#1c1c1c" stroke-width="1.6" />
<line x1="29.80" y1="341.10" x2="32.30" y2="341.10" stroke="#1c1c1c" stroke-width="1.6" />
<text transform="translate(27.90,344.17) scale(1.12,1)" font-size="8.57" text-anchor="end" fill="#1a1a1a" font-weight="bold" stroke="#1a1a1a" stroke-width="0.3">20</text>
<line x1="29.80" y1="328.60" x2="32.30" y2="328.60" stroke="#1c1c1c" stroke-width="1.6" />
<text transform="translate(27.90,331.67) scale(1.12,1)" font-size="8.57" text-anchor="end" fill="#1a1a1a" font-weight="bold" stroke="#1a1a1a" stroke-width="0.3">25</text>
<line x1="29.80" y1="316.10" x2="32.30" y2="316.10" stroke="#1c1c1c" stroke-width="1.6" />
<text transform="translate(27.90,319.17) scale(1.12,1)" font-size="8.57" text-anchor="end" fill="#1a1a1a" font-weight="bold" stroke="#1a1a1a" stroke-width="0.3">30</text>
<line x1="29.80" y1="303.60" x2="32.30" y2="303.60" stroke="#1c1c1c" stroke-width="1.6" />
<text transform="translate(27.90,306.67) scale(1.12,1)" font-size="8.57" text-anchor="end" fill="#1a1a1a" font-weight="bold" stroke="#1a1a1a" stroke-width="0.3">35</text>
<line x1="29.80" y1="291.10" x2="32.30" y2="291.10" stroke="#1c1c1c" stroke-width="1.6" />
<text transform="translate(27.90,294.17) scale(1.12,1)" font-size="8.57" text-anchor="end" fill="#1a1a1a" font-weight="bold" stroke="#1a1a1a" stroke-width="0.3">40</text>
<line x1="29.80" y1="278.60" x2="32.30" y2="278.60" stroke="#1c1c1c" stroke-width="1.6" />
<text transform="translate(27.90,281.67) scale(1.12,1)" font-size="8.57" text-anchor="end" fill="#1a1a1a" font-weight="bold" stroke="#1a1a1a" stroke-width="0.3">45</text>
<line x1="29.80" y1="266.10" x2="32.30" y2="266.10" stroke="#1c1c1c" stroke-width="1.6" />
<text transform="translate(27.90,269.17) scale(1.12,1)" font-size="8.57" text-anchor="end" fill="#1a1a1a" font-weight="bold" stroke="#1a1a1a" stroke-width="0.3">50</text>
<line x1="29.80" y1="253.60" x2="32.30" y2="253.60" stroke="#1c1c1c" stroke-width="1.6" />
<text transform="translate(27.90,256.67) scale(1.12,1)" font-size="8.57" text-anchor="end" fill="#1a1a1a" font-weight="bold" stroke="#1a1a1a" stroke-width="0.3">55</text>
<line x1="29.80" y1="241.10" x2="32.30" y2="241.10" stroke="#1c1c1c" stroke-width="1.6" />
<text transform="translate(27.90,244.17) scale(1.12,1)" font-size="8.57" text-anchor="end" fill="#1a1a1a" font-weight="bold" stroke="#1a1a1a" stroke-width="0.3">60</text>
<line x1="29.80" y1="228.60" x2="32.30" y2="228.60" stroke="#1c1c1c" stroke-width="1.6" />
<text transform="translate(27.90,231.67) scale(1.12,1)" font-size="8.57" text-anchor="end" fill="#1a1a1a" font-weight="bold" stroke="#1a1a1a" stroke-width="0.3">65</text>
<line x1="30.80" y1="334.85" x2="32.30" y2="334.85" stroke="#1c1c1c" stroke-width="1.0" />
<line x1="30.80" y1="322.35" x2="32.30" y2="322.35" stroke="#1c1c1c" stroke-width="1.0" />
<line x1="30.80" y1="309.85" x2="32.30" y2="309.85" stroke="#1c1c1c" stroke-width="1.0" />
<line x1="30.80" y1="297.35" x2="32.30" y2="297.35" stroke="#1c1c1c" stroke-width="1.0" />
<line x1="30.80" y1="284.85" x2="32.30" y2="284.85" stroke="#1c1c1c" stroke-width="1.0" />
<line x1="30.80" y1="272.35" x2="32.30" y2="272.35" stroke="#1c1c1c" stroke-width="1.0" />
<line x1="30.80" y1="259.85" x2="32.30" y2="259.85" stroke="#1c1c1c" stroke-width="1.0" />
<line x1="30.80" y1="247.35" x2="32.30" y2="247.35" stroke="#1c1c1c" stroke-width="1.0" />
<line x1="30.80" y1="234.85" x2="32.30" y2="234.85" stroke="#1c1c1c" stroke-width="1.0" />
<line x1="32.30" y1="341.10" x2="200.90" y2="341.10" stroke="#1c1c1c" stroke-width="1.6" />
<line x1="32.30" y1="341.10" x2="32.30" y2="344.10" stroke="#1c1c1c" stroke-width="1.6" />
<text transform="translate(32.30,354.64) scale(1.12,1)" font-size="8.75" text-anchor="middle" fill="#1a1a1a" font-weight="bold" stroke="#1a1a1a" stroke-width="0.3">0</text>
<line x1="60.40" y1="341.10" x2="60.40" y2="344.10" stroke="#1c1c1c" stroke-width="1.6" />
<text transform="translate(60.40,354.64) scale(1.12,1)" font-size="8.75" text-anchor="middle" fill="#1a1a1a" font-weight="bold" stroke="#1a1a1a" stroke-width="0.3">1000</text>
<line x1="88.50" y1="341.10" x2="88.50" y2="344.10" stroke="#1c1c1c" stroke-width="1.6" />
<text transform="translate(88.50,354.64) scale(1.12,1)" font-size="8.75" text-anchor="middle" fill="#1a1a1a" font-weight="bold" stroke="#1a1a1a" stroke-width="0.3">2000</text>
<line x1="116.60" y1="341.10" x2="116.60" y2="344.10" stroke="#1c1c1c" stroke-width="1.6" />
<text transform="translate(116.60,354.64) scale(1.12,1)" font-size="8.75" text-anchor="middle" fill="#1a1a1a" font-weight="bold" stroke="#1a1a1a" stroke-width="0.3">3000</text>
<line x1="144.70" y1="341.10" x2="144.70" y2="344.10" stroke="#1c1c1c" stroke-width="1.6" />
<text transform="translate(144.70,354.64) scale(1.12,1)" font-size="8.75" text-anchor="middle" fill="#1a1a1a" font-weight="bold" stroke="#1a1a1a" stroke-width="0.3">4000</text>
<line x1="172.80" y1="341.10" x2="172.80" y2="344.10" stroke="#1c1c1c" stroke-width="1.6" />
<text transform="translate(172.80,354.64) scale(1.12,1)" font-size="8.75" text-anchor="middle" fill="#1a1a1a" font-weight="bold" stroke="#1a1a1a" stroke-width="0.3">5000</text>
<line x1="200.90" y1="341.10" x2="200.90" y2="344.10" stroke="#1c1c1c" stroke-width="1.6" />
<text transform="translate(200.90,354.64) scale(1.12,1)" font-size="8.75" text-anchor="middle" fill="#1a1a1a" font-weight="bold" stroke="#1a1a1a" stroke-width="0.3">6000</text>
<line x1="37.92" y1="341.10" x2="37.92" y2="342.90" stroke="#1c1c1c" stroke-width="1.0" />
<line x1="43.54" y1="341.10" x2="43.54" y2="342.90" stroke="#1c1c1c" stroke-width="1.0" />
<line x1="49.16" y1="341.10" x2="49.16" y2="342.90" stroke="#1c1c1c" stroke-width="1.0" />
<line x1="54.78" y1="341.10" x2="54.78" y2="342.90" stroke="#1c1c1c" stroke-width="1.0" />
<line x1="66.02" y1="341.10" x2="66.02" y2="342.90" stroke="#1c1c1c" stroke-width="1.0" />
<line x1="71.64" y1="341.10" x2="71.64" y2="342.90" stroke="#1c1c1c" stroke-width="1.0" />
<line x1="77.26" y1="341.10" x2="77.26" y2="342.90" stroke="#1c1c1c" stroke-width="1.0" />
<line x1="82.88" y1="341.10" x2="82.88" y2="342.90" stroke="#1c1c1c" stroke-width="1.0" />
<line x1="94.12" y1="341.10" x2="94.12" y2="342.90" stroke="#1c1c1c" stroke-width="1.0" />
<line x1="99.74" y1="341.10" x2="99.74" y2="342.90" stroke="#1c1c1c" stroke-width="1.0" />
<line x1="105.36" y1="341.10" x2="105.36" y2="342.90" stroke="#1c1c1c" stroke-width="1.0" />
<line x1="110.98" y1="341.10" x2="110.98" y2="342.90" stroke="#1c1c1c" stroke-width="1.0" />
<line x1="122.22" y1="341.10" x2="122.22" y2="342.90" stroke="#1c1c1c" stroke-width="1.0" />
<line x1="127.84" y1="341.10" x2="127.84" y2="342.90" stroke="#1c1c1c" stroke-width="1.0" />
<line x1="133.46" y1="341.10" x2="133.46" y2="342.90" stroke="#1c1c1c" stroke-width="1.0" />
<line x1="139.08" y1="341.10" x2="139.08" y2="342.90" stroke="#1c1c1c" stroke-width="1.0" />
<line x1="150.32" y1="341.10" x2="150.32" y2="342.90" stroke="#1c1c1c" stroke-width="1.0" />
<line x1="155.94" y1="341.10" x2="155.94" y2="342.90" stroke="#1c1c1c" stroke-width="1.0" />
<line x1="161.56" y1="341.10" x2="161.56" y2="342.90" stroke="#1c1c1c" stroke-width="1.0" />
<line x1="167.18" y1="341.10" x2="167.18" y2="342.90" stroke="#1c1c1c" stroke-width="1.0" />
<line x1="178.42" y1="341.10" x2="178.42" y2="342.90" stroke="#1c1c1c" stroke-width="1.0" />
<line x1="184.04" y1="341.10" x2="184.04" y2="342.90" stroke="#1c1c1c" stroke-width="1.0" />
<line x1="189.66" y1="341.10" x2="189.66" y2="342.90" stroke="#1c1c1c" stroke-width="1.0" />
<line x1="195.28" y1="341.10" x2="195.28" y2="342.90" stroke="#1c1c1c" stroke-width="1.0" />
<text x="117.20" y="367.70" font-size="9.6" text-anchor="middle" fill="#1a1a1a" font-weight="bold" stroke="#1a1a1a" stroke-width="0.3" >Time (s)</text>
<text x="0" y="0" font-size="10" text-anchor="middle" fill="#1a1a1a" stroke="#1a1a1a" stroke-width="0.3" font-weight="bold" transform="translate(8.80,283.20) rotate(-90)" dominant-baseline="central">Temperature (°C)</text>
<path d="M32.30,328.60 L32.64,321.77 L32.99,315.66 L33.33,310.53 L33.68,306.17 L34.02,302.31 L34.37,298.96 L34.71,296.10 L35.06,293.57 L35.40,291.30 L35.75,289.28 L36.09,287.50 L36.44,285.93 L36.78,284.49 L37.13,283.17 L37.47,281.94 L37.82,280.81 L38.16,279.75 L38.51,278.75 L38.85,277.81 L39.20,276.90 L39.54,276.02 L39.89,275.17 L40.23,274.37 L40.58,273.61 L40.92,272.90 L41.27,272.23 L41.61,271.62 L41.96,271.06 L42.30,270.56 L42.65,270.08 L42.99,269.63 L43.34,269.21 L43.68,268.81 L44.03,268.43 L44.37,268.06 L44.72,267.71 L45.06,267.38 L45.41,267.05 L45.75,266.73 L46.10,266.41 L46.44,266.10 L46.79,265.80 L47.13,265.51 L47.48,265.23 L47.82,264.96 L48.17,264.71 L48.51,264.46 L48.86,264.22 L49.20,264.00 L49.54,266.13 L49.88,268.23 L50.21,270.29 L50.55,272.31 L50.89,274.32 L51.23,276.36 L51.57,278.38 L51.90,280.38 L52.24,282.32 L52.58,284.18 L52.92,285.93 L53.26,287.55 L53.59,289.04 L53.93,290.45 L54.27,291.81 L54.61,293.11 L54.95,294.36 L55.28,295.56 L55.62,296.71 L55.96,297.82 L56.30,298.89 L56.64,299.92 L56.97,300.92 L57.31,301.90 L57.65,302.86 L57.99,303.79 L58.33,304.71 L58.66,305.60 L59.00,306.46 L59.34,307.28 L59.68,308.08 L60.02,308.84 L60.35,309.56 L60.69,310.24 L61.03,310.87 L61.37,311.47 L61.71,312.06 L62.04,312.63 L62.38,313.18 L62.72,313.72 L63.06,314.25 L63.40,314.77 L63.73,315.27 L64.07,315.76 L64.41,316.23 L64.75,316.69 L65.09,317.14 L65.42,317.58 L65.76,318.00 L66.10,318.42 L66.44,318.82 L66.78,319.21 L67.11,319.58 L67.45,319.95 L67.79,320.30 L68.13,320.64 L68.47,320.98 L68.80,321.30 L69.14,321.61 L69.48,321.92 L69.82,322.22 L70.16,322.51 L70.49,322.80 L70.83,323.08 L71.17,323.36 L71.51,323.62 L71.85,323.89 L72.18,324.14 L72.52,324.40 L72.86,324.64 L73.20,324.88 L73.54,325.12 L73.87,325.35 L74.21,325.58 L74.55,325.80 L74.89,326.02 L75.23,326.23 L75.56,326.43 L75.90,326.64 L76.24,326.84 L76.58,327.03 L76.92,327.22 L77.25,327.41 L77.59,327.60 L77.93,327.78 L78.27,327.95 L78.61,328.13 L78.94,328.30 L79.28,328.46 L79.62,328.62 L79.96,328.78 L80.30,328.93 L80.63,329.08 L80.97,329.23 L81.31,329.37 L81.65,329.50 L81.99,329.63 L82.32,329.76 L82.66,329.88 L83.00,330.00 L83.34,327.61 L83.69,325.12 L84.03,322.53 L84.37,319.85 L84.71,317.06 L85.06,313.97 L85.40,310.69 L85.74,307.40 L86.08,304.28 L86.43,301.53 L86.77,299.17 L87.11,296.95 L87.45,294.87 L87.80,292.91 L88.14,291.07 L88.48,289.36 L88.82,287.77 L89.17,286.30 L89.51,284.91 L89.85,283.61 L90.19,282.39 L90.54,281.23 L90.88,280.14 L91.22,279.09 L91.56,278.10 L91.91,277.14 L92.25,276.20 L92.59,275.29 L92.94,274.42 L93.28,273.57 L93.62,272.77 L93.96,272.01 L94.31,271.29 L94.65,270.63 L94.99,270.02 L95.33,269.44 L95.68,268.87 L96.02,268.30 L96.36,267.75 L96.70,267.21 L97.05,266.68 L97.39,266.17 L97.73,265.68 L98.07,265.20 L98.42,264.75 L98.76,264.31 L99.10,263.90 L99.44,263.51 L99.79,263.15 L100.13,262.82 L100.47,262.52 L100.81,262.24 L101.16,262.00 L101.50,261.80 L101.84,265.47 L102.18,268.96 L102.52,272.23 L102.86,275.23 L103.20,277.92 L103.54,280.23 L103.88,282.29 L104.22,284.20 L104.55,285.96 L104.89,287.59 L105.23,289.08 L105.57,290.44 L105.91,291.70 L106.25,292.84 L106.59,293.90 L106.93,294.88 L107.27,295.80 L107.61,296.67 L107.95,297.50 L108.29,298.30 L108.63,299.09 L108.97,299.88 L109.31,300.68 L109.65,301.49 L109.99,302.31 L110.33,303.12 L110.66,303.94 L111.00,304.74 L111.34,305.53 L111.68,306.31 L112.02,307.07 L112.36,307.81 L112.70,308.53 L113.04,309.22 L113.38,309.88 L113.72,310.51 L114.06,311.10 L114.40,311.67 L114.74,312.22 L115.08,312.76 L115.42,313.28 L115.76,313.79 L116.10,314.28 L116.43,314.76 L116.77,315.23 L117.11,315.69 L117.45,316.13 L117.79,316.57 L118.13,316.99 L118.47,317.40 L118.81,317.80 L119.15,318.19 L119.49,318.58 L119.83,318.95 L120.17,319.33 L120.51,319.69 L120.85,320.06 L121.19,320.42 L121.53,320.78 L121.87,321.14 L122.20,321.48 L122.54,321.83 L122.88,322.17 L123.22,322.50 L123.56,322.82 L123.90,323.14 L124.24,323.45 L124.58,323.76 L124.92,324.05 L125.26,324.34 L125.60,324.62 L125.94,324.89 L126.28,325.15 L126.62,325.39 L126.96,325.63 L127.30,325.86 L127.64,326.08 L127.98,326.29 L128.31,326.48 L128.65,326.68 L128.99,326.87 L129.33,327.07 L129.67,327.25 L130.01,327.44 L130.35,327.62 L130.69,327.80 L131.03,327.97 L131.37,328.15 L131.71,328.31 L132.05,328.47 L132.39,328.63 L132.73,328.78 L133.07,328.93 L133.41,329.07 L133.75,329.20 L134.08,329.33 L134.42,329.45 L134.76,329.57 L135.10,329.68 L135.44,329.78 L135.78,329.87 L136.12,329.95 L136.46,330.03 L136.80,330.10 L137.14,326.69 L137.49,323.27 L137.83,319.84 L138.17,316.40 L138.51,312.90 L138.86,309.18 L139.20,305.44 L139.54,301.92 L139.88,298.82 L140.23,296.24 L140.57,293.86 L140.91,291.64 L141.25,289.61 L141.60,287.77 L141.94,286.12 L142.28,284.68 L142.62,283.36 L142.97,282.13 L143.31,280.99 L143.65,279.92 L143.99,278.92 L144.34,277.98 L144.68,277.10 L145.02,276.27 L145.36,275.48 L145.71,274.73 L146.05,274.01 L146.39,273.33 L146.73,272.67 L147.08,272.04 L147.42,271.44 L147.76,270.86 L148.10,270.30 L148.45,269.76 L148.79,269.23 L149.13,268.72 L149.47,268.22 L149.82,267.73 L150.16,267.26 L150.50,266.80 L150.84,266.35 L151.19,265.92 L151.53,265.50 L151.87,265.10 L152.21,264.72 L152.56,264.35 L152.90,264.00 L153.24,266.63 L153.58,269.18 L153.92,271.63 L154.26,273.97 L154.59,276.17 L154.93,278.21 L155.27,280.12 L155.61,281.96 L155.95,283.73 L156.29,285.44 L156.63,287.07 L156.97,288.62 L157.30,290.10 L157.64,291.49 L157.98,292.80 L158.32,294.03 L158.66,295.21 L159.00,296.35 L159.34,297.47 L159.68,298.55 L160.01,299.59 L160.35,300.61 L160.69,301.59 L161.03,302.53 L161.37,303.45 L161.71,304.32 L162.05,305.17 L162.39,305.98 L162.72,306.75 L163.06,307.50 L163.40,308.20 L163.74,308.88 L164.08,309.53 L164.42,310.16 L164.76,310.78 L165.10,311.38 L165.43,311.96 L165.77,312.52 L166.11,313.07 L166.45,313.60 L166.79,314.12 L167.13,314.62 L167.47,315.11 L167.81,315.58 L168.14,316.03 L168.48,316.48 L168.82,316.91 L169.16,317.32 L169.50,317.73 L169.84,318.12 L170.18,318.50 L170.52,318.87 L170.86,319.24 L171.19,319.60 L171.53,319.95 L171.87,320.29 L172.21,320.63 L172.55,320.96 L172.89,321.29 L173.23,321.61 L173.57,321.92 L173.90,322.22 L174.24,322.52 L174.58,322.81 L174.92,323.10 L175.26,323.38 L175.60,323.65 L175.94,323.92 L176.28,324.18 L176.61,324.43 L176.95,324.68 L177.29,324.92 L177.63,325.16 L177.97,325.39 L178.31,325.61 L178.65,325.83 L178.99,326.04 L179.32,326.25 L179.66,326.46 L180.00,326.67 L180.34,326.87 L180.68,327.07 L181.02,327.26 L181.36,327.45 L181.70,327.64 L182.03,327.82 L182.37,327.99 L182.71,328.17 L183.05,328.33 L183.39,328.50 L183.73,328.65 L184.07,328.81 L184.41,328.95 L184.74,329.09 L185.08,329.23 L185.42,329.36 L185.76,329.48 L186.10,329.60" fill="none" stroke="#5050c0" stroke-width="1.3" stroke-linejoin="round" />
<path d="M32.30,328.60 L32.64,324.50 L32.98,320.53 L33.32,316.87 L33.66,313.68 L34.00,311.13 L34.34,309.33 L34.68,307.85 L35.02,306.55 L35.36,305.41 L35.70,304.40 L36.04,303.47 L36.38,302.61 L36.72,301.78 L37.06,300.95 L37.40,300.09 L37.74,299.17 L38.08,298.19 L38.42,297.20 L38.76,296.21 L39.10,295.23 L39.44,294.25 L39.78,293.30 L40.12,292.37 L40.46,291.47 L40.80,290.61 L41.14,289.80 L41.48,289.04 L41.82,288.33 L42.16,287.66 L42.50,287.01 L42.84,286.38 L43.18,285.78 L43.52,285.20 L43.86,284.63 L44.20,284.08 L44.54,283.53 L44.88,282.99 L45.22,282.45 L45.56,281.90 L45.90,281.37 L46.24,280.83 L46.58,280.31 L46.92,279.79 L47.26,279.28 L47.60,278.78 L47.94,278.29 L48.28,277.80 L48.62,277.33 L48.96,276.86 L49.30,276.40 L49.64,277.93 L49.98,279.38 L50.32,280.72 L50.66,281.94 L51.00,282.99 L51.33,283.87 L51.67,284.62 L52.01,285.30 L52.35,285.94 L52.69,286.59 L53.03,287.30 L53.37,288.12 L53.71,289.08 L54.05,290.17 L54.39,291.36 L54.72,292.63 L55.06,293.95 L55.40,295.28 L55.74,296.61 L56.08,297.90 L56.42,299.13 L56.76,300.26 L57.10,301.28 L57.44,302.25 L57.78,303.21 L58.11,304.14 L58.45,305.05 L58.79,305.93 L59.13,306.78 L59.47,307.60 L59.81,308.38 L60.15,309.13 L60.49,309.83 L60.83,310.50 L61.17,311.12 L61.50,311.71 L61.84,312.29 L62.18,312.86 L62.52,313.41 L62.86,313.95 L63.20,314.47 L63.54,314.98 L63.88,315.48 L64.22,315.97 L64.56,316.44 L64.90,316.90 L65.23,317.34 L65.57,317.78 L65.91,318.20 L66.25,318.60 L66.59,319.00 L66.93,319.38 L67.27,319.76 L67.61,320.12 L67.95,320.47 L68.29,320.80 L68.62,321.13 L68.96,321.45 L69.30,321.76 L69.64,322.07 L69.98,322.37 L70.32,322.68 L70.66,322.97 L71.00,323.26 L71.34,323.55 L71.68,323.83 L72.01,324.10 L72.35,324.37 L72.69,324.63 L73.03,324.88 L73.37,325.12 L73.71,325.36 L74.05,325.59 L74.39,325.80 L74.73,326.01 L75.07,326.22 L75.40,326.41 L75.74,326.59 L76.08,326.76 L76.42,326.92 L76.76,327.06 L77.10,327.20 L77.44,324.94 L77.79,322.69 L78.13,320.44 L78.47,318.19 L78.81,315.85 L79.16,313.35 L79.50,310.85 L79.84,308.51 L80.18,306.47 L80.53,304.90 L80.87,303.66 L81.21,302.57 L81.55,301.59 L81.90,300.70 L82.24,299.89 L82.58,299.11 L82.92,298.36 L83.27,297.59 L83.61,296.79 L83.95,295.93 L84.29,295.00 L84.64,294.04 L84.98,293.06 L85.32,292.07 L85.66,291.07 L86.01,290.08 L86.35,289.11 L86.69,288.16 L87.03,287.26 L87.38,286.40 L87.72,285.60 L88.06,284.87 L88.40,284.18 L88.75,283.49 L89.09,282.82 L89.43,282.17 L89.77,281.53 L90.12,280.92 L90.46,280.32 L90.80,279.75 L91.14,279.20 L91.49,278.68 L91.83,278.18 L92.17,277.71 L92.51,277.28 L92.86,276.87 L93.20,276.50 L93.54,277.36 L93.88,278.23 L94.22,279.11 L94.56,280.00 L94.90,280.90 L95.24,281.81 L95.58,282.73 L95.92,283.66 L96.26,284.61 L96.60,285.57 L96.94,286.57 L97.28,287.62 L97.62,288.68 L97.96,289.76 L98.30,290.85 L98.64,291.94 L98.98,293.01 L99.32,294.06 L99.66,295.08 L100.00,296.06 L100.34,296.99 L100.68,297.85 L101.02,298.67 L101.36,299.48 L101.70,300.28 L102.04,301.06 L102.38,301.83 L102.72,302.58 L103.06,303.32 L103.40,304.04 L103.74,304.75 L104.08,305.44 L104.42,306.11 L104.76,306.76 L105.10,307.39 L105.44,308.01 L105.78,308.60 L106.12,309.17 L106.46,309.72 L106.80,310.25 L107.14,310.76 L107.48,311.24 L107.82,311.71 L108.16,312.16 L108.50,312.60 L108.84,313.02 L109.18,313.43 L109.52,313.83 L109.86,314.22 L110.20,314.60 L110.54,314.97 L110.88,315.33 L111.22,315.69 L111.56,316.05 L111.90,316.41 L112.24,316.76 L112.58,317.12 L112.92,317.47 L113.26,317.84 L113.60,318.20 L113.94,318.57 L114.28,318.93 L114.62,319.30 L114.96,319.66 L115.30,320.02 L115.64,320.38 L115.98,320.73 L116.32,321.09 L116.66,321.44 L117.00,321.79 L117.34,322.14 L117.68,322.49 L118.02,322.83 L118.36,323.17 L118.70,323.52 L119.04,323.85 L119.38,324.19 L119.72,324.52 L120.06,324.86 L120.40,325.19 L120.74,325.51 L121.08,325.84 L121.42,326.16 L121.76,326.48 L122.10,326.80 L122.44,325.19 L122.79,323.51 L123.13,321.77 L123.47,319.92 L123.81,317.91 L124.16,315.84 L124.50,313.79 L124.84,311.84 L125.19,310.07 L125.53,308.45 L125.87,306.88 L126.21,305.37 L126.56,303.92 L126.90,302.52 L127.24,301.20 L127.59,299.95 L127.93,298.77 L128.27,297.68 L128.61,296.64 L128.96,295.64 L129.30,294.69 L129.64,293.77 L129.99,292.88 L130.33,292.03 L130.67,291.20 L131.01,290.41 L131.36,289.63 L131.70,288.88 L132.04,288.15 L132.39,287.44 L132.73,286.74 L133.07,286.05 L133.41,285.39 L133.76,284.75 L134.10,284.12 L134.44,283.51 L134.79,282.91 L135.13,282.33 L135.47,281.77 L135.81,281.22 L136.16,280.68 L136.50,280.15 L136.84,279.64 L137.19,279.14 L137.53,278.66 L137.87,278.20 L138.21,277.75 L138.56,277.32 L138.90,276.90 L139.24,278.10 L139.57,279.31 L139.91,280.54 L140.25,281.79 L140.59,283.05 L140.92,284.32 L141.26,285.62 L141.60,286.99 L141.93,288.40 L142.27,289.83 L142.61,291.28 L142.95,292.71 L143.28,294.11 L143.62,295.45 L143.96,296.72 L144.30,297.88 L144.63,298.99 L144.97,300.08 L145.31,301.15 L145.64,302.20 L145.98,303.22 L146.32,304.20 L146.66,305.16 L146.99,306.06 L147.33,306.93 L147.67,307.74 L148.00,308.50 L148.34,309.20 L148.68,309.85 L149.02,310.45 L149.35,311.03 L149.69,311.58 L150.03,312.12 L150.37,312.63 L150.70,313.13 L151.04,313.60 L151.38,314.06 L151.71,314.51 L152.05,314.94 L152.39,315.35 L152.73,315.76 L153.06,316.16 L153.40,316.54 L153.74,316.92 L154.07,317.30 L154.41,317.67 L154.75,318.03 L155.09,318.39 L155.42,318.75 L155.76,319.10 L156.10,319.44 L156.43,319.77 L156.77,320.09 L157.11,320.41 L157.45,320.73 L157.78,321.03 L158.12,321.34 L158.46,321.63 L158.80,321.92 L159.13,322.21 L159.47,322.49 L159.81,322.76 L160.14,323.04 L160.48,323.31 L160.82,323.57 L161.16,323.83 L161.49,324.09 L161.83,324.35 L162.17,324.61 L162.50,324.86 L162.84,325.11 L163.18,325.35 L163.52,325.59 L163.85,325.83 L164.19,326.06 L164.53,326.30 L164.87,326.52 L165.20,326.75 L165.54,326.97 L165.88,327.19 L166.21,327.40 L166.55,327.61 L166.89,327.81 L167.23,328.01 L167.56,328.21 L167.90,328.40" fill="none" stroke="#5a1c1c" stroke-width="1.2" stroke-linejoin="round" stroke-dasharray="1 1.2"/>
<line x1="37.30" y1="242.90" x2="47.80" y2="242.90" stroke="#9a6a6a" stroke-width="1.0" stroke-dasharray="1 2"/>
<text x="54.50" y="246.60" font-size="9.6" text-anchor="start" fill="#1a1a1a" font-weight="bold" stroke="#1a1a1a" stroke-width="0.3" >50 μg/mL</text>
<line x1="101.10" y1="242.90" x2="111.60" y2="242.90" stroke="#6060c8" stroke-width="1.5" />
<text x="117.60" y="246.60" font-size="9.7" text-anchor="start" fill="#1a1a1a" font-weight="bold" stroke="#1a1a1a" stroke-width="0.3" >100 μg/mL</text>
<line x1="258.00" y1="227.91" x2="258.00" y2="340.40" stroke="#1c1c1c" stroke-width="1.6" />
<line x1="255.50" y1="340.40" x2="258.00" y2="340.40" stroke="#1c1c1c" stroke-width="1.6" />
<text transform="translate(253.80,343.47) scale(1.12,1)" font-size="8.57" text-anchor="end" fill="#1a1a1a" font-weight="bold" stroke="#1a1a1a" stroke-width="0.3">20</text>
<line x1="255.50" y1="324.33" x2="258.00" y2="324.33" stroke="#1c1c1c" stroke-width="1.6" />
<text transform="translate(253.80,327.40) scale(1.12,1)" font-size="8.57" text-anchor="end" fill="#1a1a1a" font-weight="bold" stroke="#1a1a1a" stroke-width="0.3">25</text>
<line x1="255.50" y1="308.26" x2="258.00" y2="308.26" stroke="#1c1c1c" stroke-width="1.6" />
<text transform="translate(253.80,311.33) scale(1.12,1)" font-size="8.57" text-anchor="end" fill="#1a1a1a" font-weight="bold" stroke="#1a1a1a" stroke-width="0.3">30</text>
<line x1="255.50" y1="292.19" x2="258.00" y2="292.19" stroke="#1c1c1c" stroke-width="1.6" />
<text transform="translate(253.80,295.26) scale(1.12,1)" font-size="8.57" text-anchor="end" fill="#1a1a1a" font-weight="bold" stroke="#1a1a1a" stroke-width="0.3">35</text>
<line x1="255.50" y1="276.12" x2="258.00" y2="276.12" stroke="#1c1c1c" stroke-width="1.6" />
<text transform="translate(253.80,279.19) scale(1.12,1)" font-size="8.57" text-anchor="end" fill="#1a1a1a" font-weight="bold" stroke="#1a1a1a" stroke-width="0.3">40</text>
<line x1="255.50" y1="260.05" x2="258.00" y2="260.05" stroke="#1c1c1c" stroke-width="1.6" />
<text transform="translate(253.80,263.12) scale(1.12,1)" font-size="8.57" text-anchor="end" fill="#1a1a1a" font-weight="bold" stroke="#1a1a1a" stroke-width="0.3">45</text>
<line x1="255.50" y1="243.98" x2="258.00" y2="243.98" stroke="#1c1c1c" stroke-width="1.6" />
<text transform="translate(253.80,247.05) scale(1.12,1)" font-size="8.57" text-anchor="end" fill="#1a1a1a" font-weight="bold" stroke="#1a1a1a" stroke-width="0.3">50</text>
<line x1="255.50" y1="227.91" x2="258.00" y2="227.91" stroke="#1c1c1c" stroke-width="1.6" />
<text transform="translate(253.80,230.98) scale(1.12,1)" font-size="8.57" text-anchor="end" fill="#1a1a1a" font-weight="bold" stroke="#1a1a1a" stroke-width="0.3">55</text>
<line x1="256.50" y1="332.36" x2="258.00" y2="332.36" stroke="#1c1c1c" stroke-width="1.0" />
<line x1="256.50" y1="316.29" x2="258.00" y2="316.29" stroke="#1c1c1c" stroke-width="1.0" />
<line x1="256.50" y1="300.22" x2="258.00" y2="300.22" stroke="#1c1c1c" stroke-width="1.0" />
<line x1="256.50" y1="284.15" x2="258.00" y2="284.15" stroke="#1c1c1c" stroke-width="1.0" />
<line x1="256.50" y1="268.08" x2="258.00" y2="268.08" stroke="#1c1c1c" stroke-width="1.0" />
<line x1="256.50" y1="252.01" x2="258.00" y2="252.01" stroke="#1c1c1c" stroke-width="1.0" />
<line x1="256.50" y1="235.94" x2="258.00" y2="235.94" stroke="#1c1c1c" stroke-width="1.0" />
<line x1="258.00" y1="340.40" x2="427.80" y2="340.40" stroke="#1c1c1c" stroke-width="1.6" />
<line x1="258.00" y1="340.40" x2="258.00" y2="343.40" stroke="#1c1c1c" stroke-width="1.6" />
<text transform="translate(258.00,353.36) scale(1.12,1)" font-size="9.37" text-anchor="middle" fill="#1a1a1a" font-weight="bold" stroke="#1a1a1a" stroke-width="0.3">0</text>
<line x1="314.60" y1="340.40" x2="314.60" y2="343.40" stroke="#1c1c1c" stroke-width="1.6" />
<text transform="translate(314.60,353.36) scale(1.12,1)" font-size="9.37" text-anchor="middle" fill="#1a1a1a" font-weight="bold" stroke="#1a1a1a" stroke-width="0.3">600</text>
<line x1="371.20" y1="340.40" x2="371.20" y2="343.40" stroke="#1c1c1c" stroke-width="1.6" />
<text transform="translate(371.20,353.36) scale(1.12,1)" font-size="9.37" text-anchor="middle" fill="#1a1a1a" font-weight="bold" stroke="#1a1a1a" stroke-width="0.3">1200</text>
<line x1="427.80" y1="340.40" x2="427.80" y2="343.40" stroke="#1c1c1c" stroke-width="1.6" />
<text transform="translate(427.80,353.36) scale(1.12,1)" font-size="9.37" text-anchor="middle" fill="#1a1a1a" font-weight="bold" stroke="#1a1a1a" stroke-width="0.3">1800</text>
<line x1="267.43" y1="340.40" x2="267.43" y2="342.20" stroke="#1c1c1c" stroke-width="1.0" />
<line x1="276.87" y1="340.40" x2="276.87" y2="342.20" stroke="#1c1c1c" stroke-width="1.0" />
<line x1="286.30" y1="340.40" x2="286.30" y2="342.20" stroke="#1c1c1c" stroke-width="1.0" />
<line x1="295.73" y1="340.40" x2="295.73" y2="342.20" stroke="#1c1c1c" stroke-width="1.0" />
<line x1="305.17" y1="340.40" x2="305.17" y2="342.20" stroke="#1c1c1c" stroke-width="1.0" />
<line x1="324.03" y1="340.40" x2="324.03" y2="342.20" stroke="#1c1c1c" stroke-width="1.0" />
<line x1="333.47" y1="340.40" x2="333.47" y2="342.20" stroke="#1c1c1c" stroke-width="1.0" />
<line x1="342.90" y1="340.40" x2="342.90" y2="342.20" stroke="#1c1c1c" stroke-width="1.0" />
<line x1="352.33" y1="340.40" x2="352.33" y2="342.20" stroke="#1c1c1c" stroke-width="1.0" />
<line x1="361.77" y1="340.40" x2="361.77" y2="342.20" stroke="#1c1c1c" stroke-width="1.0" />
<line x1="380.63" y1="340.40" x2="380.63" y2="342.20" stroke="#1c1c1c" stroke-width="1.0" />
<line x1="390.07" y1="340.40" x2="390.07" y2="342.20" stroke="#1c1c1c" stroke-width="1.0" />
<line x1="399.50" y1="340.40" x2="399.50" y2="342.20" stroke="#1c1c1c" stroke-width="1.0" />
<line x1="408.93" y1="340.40" x2="408.93" y2="342.20" stroke="#1c1c1c" stroke-width="1.0" />
<line x1="418.37" y1="340.40" x2="418.37" y2="342.20" stroke="#1c1c1c" stroke-width="1.0" />
<text x="342.80" y="366.30" font-size="10" text-anchor="middle" fill="#1a1a1a" font-weight="bold" stroke="#1a1a1a" stroke-width="0.3" >Time (s)</text>
<text x="0" y="0" font-size="10" text-anchor="middle" fill="#1a1a1a" stroke="#1a1a1a" stroke-width="0.3" font-weight="bold" transform="translate(231.80,282.50) rotate(-90)" dominant-baseline="central">Temperature (°C)</text>
<path d="M258.00,324.05 L258.97,320.43 L259.94,316.89 L260.91,313.47 L261.88,310.94 L262.86,308.21 L263.83,305.60 L264.80,303.50 L265.77,301.42 L266.74,299.53 L267.71,297.72 L268.68,296.15 L269.65,294.40 L270.63,293.01 L271.60,291.56 L272.57,290.39 L273.54,289.04 L274.51,287.78 L275.48,286.56 L276.45,285.54 L277.42,284.53 L278.39,283.47 L279.37,282.72 L280.34,281.72 L281.31,280.23 L282.28,279.46 L283.25,278.87 L284.22,278.04 L285.19,277.39 L286.16,276.73 L287.14,276.41 L288.11,275.33 L289.08,274.80 L290.05,274.45 L291.02,273.47 L291.99,272.66 L292.96,271.65 L293.93,270.64 L294.91,270.08 L295.88,269.25 L296.85,268.22 L297.82,267.44 L298.79,266.67 L299.76,265.70 L300.73,265.03 L301.70,264.34 L302.67,263.71 L303.65,263.04 L304.62,262.66 L305.59,262.19 L306.56,261.63 L307.53,261.02 L308.50,260.85 L309.47,260.32 L310.44,260.25 L311.42,259.70 L312.39,259.72 L313.36,259.26 L314.33,258.65 L315.30,258.15 L316.55,261.29 L317.80,264.86 L319.05,267.26 L320.30,269.43 L321.55,271.37 L322.80,272.86 L324.05,274.81 L325.30,276.40 L326.54,278.71 L327.79,279.89 L329.04,281.40 L330.29,282.97 L331.54,284.43 L332.79,285.85 L334.04,287.39 L335.29,288.94 L336.54,290.25 L337.79,291.84 L339.04,293.03 L340.29,294.40 L341.54,295.90 L342.79,296.96 L344.04,297.92 L345.29,299.00 L346.54,300.07 L347.79,301.19 L349.03,301.72 L350.28,302.54 L351.53,303.52 L352.78,303.99 L354.03,304.82 L355.28,305.72 L356.53,306.39 L357.78,307.02 L359.03,307.80 L360.28,307.96 L361.53,309.20 L362.78,309.55 L364.03,310.07 L365.28,310.97 L366.53,311.61 L367.78,311.98 L369.03,312.41 L370.28,313.06 L371.52,313.52 L372.77,314.18 L374.02,314.51 L375.27,314.84 L376.52,315.38 L377.77,315.58 L379.02,315.86 L380.27,316.46 L381.52,316.85 L382.77,317.11 L384.02,317.41 L385.27,317.95 L386.52,317.92 L387.77,318.77 L389.02,319.11 L390.27,319.16 L391.52,319.76 L392.77,319.95 L394.01,320.54 L395.26,320.44 L396.51,320.91 L397.76,321.46 L399.01,321.83 L400.26,321.63 L401.51,322.17 L402.76,322.58 L404.01,322.70 L405.26,323.28 L406.51,323.09 L407.76,323.52 L409.01,323.48 L410.26,324.02 L411.51,323.97 L412.76,324.07 L414.01,324.02 L415.26,324.68 L416.50,324.68 L417.75,324.81 L419.00,324.99 L420.25,324.99 L421.50,324.94 L422.75,325.00 L424.00,325.08 L425.25,325.46 L426.50,325.08" fill="none" stroke="#4a4ac8" stroke-width="1.3" stroke-linejoin="round" />
<line x1="315.00" y1="239.70" x2="315.00" y2="340.40" stroke="#7a1414" stroke-width="1.4" stroke-dasharray="1.8 1.8"/>
<text x="343.00" y="228.90" font-size="9.7" text-anchor="middle" fill="#1a1a1a" font-weight="bold" stroke="#1a1a1a" stroke-width="0.3" >50 μg/mL</text>
<text x="264.10" y="262.60" font-size="9.6" text-anchor="start" fill="#1a1a1a" font-weight="bold" stroke="#1a1a1a" stroke-width="0.3" >Heating</text>
<text x="329.40" y="264.00" font-size="9.6" text-anchor="start" fill="#1a1a1a" font-weight="bold" stroke="#1a1a1a" stroke-width="0.3" >Cooling</text>
<text x="264.90" y="322.80" font-size="9.5" text-anchor="start" fill="#a82020" font-weight="bold" stroke="#a82020" stroke-width="0.3" >η=22.5 %</text>
<line x1="482.60" y1="226.00" x2="482.60" y2="339.00" stroke="#1c1c1c" stroke-width="1.6" />
<line x1="480.10" y1="339.00" x2="482.60" y2="339.00" stroke="#1c1c1c" stroke-width="1.6" />
<text transform="translate(479.30,342.30) scale(1.12,1)" font-size="9.20" text-anchor="end" fill="#1a1a1a" font-weight="bold" stroke="#1a1a1a" stroke-width="0.3">0</text>
<line x1="480.10" y1="316.40" x2="482.60" y2="316.40" stroke="#1c1c1c" stroke-width="1.6" />
<text transform="translate(479.30,319.70) scale(1.12,1)" font-size="9.20" text-anchor="end" fill="#1a1a1a" font-weight="bold" stroke="#1a1a1a" stroke-width="0.3">200</text>
<line x1="480.10" y1="293.80" x2="482.60" y2="293.80" stroke="#1c1c1c" stroke-width="1.6" />
<text transform="translate(479.30,297.10) scale(1.12,1)" font-size="9.20" text-anchor="end" fill="#1a1a1a" font-weight="bold" stroke="#1a1a1a" stroke-width="0.3">400</text>
<line x1="480.10" y1="271.20" x2="482.60" y2="271.20" stroke="#1c1c1c" stroke-width="1.6" />
<text transform="translate(479.30,274.50) scale(1.12,1)" font-size="9.20" text-anchor="end" fill="#1a1a1a" font-weight="bold" stroke="#1a1a1a" stroke-width="0.3">600</text>
<line x1="480.10" y1="248.60" x2="482.60" y2="248.60" stroke="#1c1c1c" stroke-width="1.6" />
<text transform="translate(479.30,251.90) scale(1.12,1)" font-size="9.20" text-anchor="end" fill="#1a1a1a" font-weight="bold" stroke="#1a1a1a" stroke-width="0.3">800</text>
<line x1="480.10" y1="226.00" x2="482.60" y2="226.00" stroke="#1c1c1c" stroke-width="1.6" />
<text transform="translate(479.30,229.30) scale(1.12,1)" font-size="9.20" text-anchor="end" fill="#1a1a1a" font-weight="bold" stroke="#1a1a1a" stroke-width="0.3">1000</text>
<line x1="481.10" y1="333.35" x2="482.60" y2="333.35" stroke="#1c1c1c" stroke-width="1.0" />
<line x1="481.10" y1="327.70" x2="482.60" y2="327.70" stroke="#1c1c1c" stroke-width="1.0" />
<line x1="481.10" y1="322.05" x2="482.60" y2="322.05" stroke="#1c1c1c" stroke-width="1.0" />
<line x1="481.10" y1="310.75" x2="482.60" y2="310.75" stroke="#1c1c1c" stroke-width="1.0" />
<line x1="481.10" y1="305.10" x2="482.60" y2="305.10" stroke="#1c1c1c" stroke-width="1.0" />
<line x1="481.10" y1="299.45" x2="482.60" y2="299.45" stroke="#1c1c1c" stroke-width="1.0" />
<line x1="481.10" y1="288.15" x2="482.60" y2="288.15" stroke="#1c1c1c" stroke-width="1.0" />
<line x1="481.10" y1="282.50" x2="482.60" y2="282.50" stroke="#1c1c1c" stroke-width="1.0" />
<line x1="481.10" y1="276.85" x2="482.60" y2="276.85" stroke="#1c1c1c" stroke-width="1.0" />
<line x1="481.10" y1="265.55" x2="482.60" y2="265.55" stroke="#1c1c1c" stroke-width="1.0" />
<line x1="481.10" y1="259.90" x2="482.60" y2="259.90" stroke="#1c1c1c" stroke-width="1.0" />
<line x1="481.10" y1="254.25" x2="482.60" y2="254.25" stroke="#1c1c1c" stroke-width="1.0" />
<line x1="481.10" y1="242.95" x2="482.60" y2="242.95" stroke="#1c1c1c" stroke-width="1.0" />
<line x1="481.10" y1="237.30" x2="482.60" y2="237.30" stroke="#1c1c1c" stroke-width="1.0" />
<line x1="481.10" y1="231.65" x2="482.60" y2="231.65" stroke="#1c1c1c" stroke-width="1.0" />
<line x1="482.60" y1="339.00" x2="652.00" y2="339.00" stroke="#1c1c1c" stroke-width="1.6" />
<line x1="482.60" y1="339.00" x2="482.60" y2="342.00" stroke="#1c1c1c" stroke-width="1.6" />
<text transform="translate(482.60,352.50) scale(1.12,1)" font-size="9.20" text-anchor="middle" fill="#1a1a1a" font-weight="bold" stroke="#1a1a1a" stroke-width="0.3">0</text>
<line x1="524.95" y1="339.00" x2="524.95" y2="342.00" stroke="#1c1c1c" stroke-width="1.6" />
<text transform="translate(524.95,352.50) scale(1.12,1)" font-size="9.20" text-anchor="middle" fill="#1a1a1a" font-weight="bold" stroke="#1a1a1a" stroke-width="0.3">1</text>
<line x1="567.30" y1="339.00" x2="567.30" y2="342.00" stroke="#1c1c1c" stroke-width="1.6" />
<text transform="translate(567.30,352.50) scale(1.12,1)" font-size="9.20" text-anchor="middle" fill="#1a1a1a" font-weight="bold" stroke="#1a1a1a" stroke-width="0.3">2</text>
<line x1="609.65" y1="339.00" x2="609.65" y2="342.00" stroke="#1c1c1c" stroke-width="1.6" />
<text transform="translate(609.65,352.50) scale(1.12,1)" font-size="9.20" text-anchor="middle" fill="#1a1a1a" font-weight="bold" stroke="#1a1a1a" stroke-width="0.3">3</text>
<line x1="652.00" y1="339.00" x2="652.00" y2="342.00" stroke="#1c1c1c" stroke-width="1.6" />
<text transform="translate(652.00,352.50) scale(1.12,1)" font-size="9.20" text-anchor="middle" fill="#1a1a1a" font-weight="bold" stroke="#1a1a1a" stroke-width="0.3">4</text>
<line x1="491.07" y1="339.00" x2="491.07" y2="340.80" stroke="#1c1c1c" stroke-width="1.0" />
<line x1="499.54" y1="339.00" x2="499.54" y2="340.80" stroke="#1c1c1c" stroke-width="1.0" />
<line x1="508.01" y1="339.00" x2="508.01" y2="340.80" stroke="#1c1c1c" stroke-width="1.0" />
<line x1="516.48" y1="339.00" x2="516.48" y2="340.80" stroke="#1c1c1c" stroke-width="1.0" />
<line x1="533.42" y1="339.00" x2="533.42" y2="340.80" stroke="#1c1c1c" stroke-width="1.0" />
<line x1="541.89" y1="339.00" x2="541.89" y2="340.80" stroke="#1c1c1c" stroke-width="1.0" />
<line x1="550.36" y1="339.00" x2="550.36" y2="340.80" stroke="#1c1c1c" stroke-width="1.0" />
<line x1="558.83" y1="339.00" x2="558.83" y2="340.80" stroke="#1c1c1c" stroke-width="1.0" />
<line x1="575.77" y1="339.00" x2="575.77" y2="340.80" stroke="#1c1c1c" stroke-width="1.0" />
<line x1="584.24" y1="339.00" x2="584.24" y2="340.80" stroke="#1c1c1c" stroke-width="1.0" />
<line x1="592.71" y1="339.00" x2="592.71" y2="340.80" stroke="#1c1c1c" stroke-width="1.0" />
<line x1="601.18" y1="339.00" x2="601.18" y2="340.80" stroke="#1c1c1c" stroke-width="1.0" />
<line x1="618.12" y1="339.00" x2="618.12" y2="340.80" stroke="#1c1c1c" stroke-width="1.0" />
<line x1="626.59" y1="339.00" x2="626.59" y2="340.80" stroke="#1c1c1c" stroke-width="1.0" />
<line x1="635.06" y1="339.00" x2="635.06" y2="340.80" stroke="#1c1c1c" stroke-width="1.0" />
<line x1="643.53" y1="339.00" x2="643.53" y2="340.80" stroke="#1c1c1c" stroke-width="1.0" />
<text x="567.60" y="364.30" font-size="9.6" text-anchor="middle" fill="#1a1a1a" font-weight="bold" stroke="#1a1a1a" stroke-width="0.3" >-lnθ</text>
<text x="0" y="0" font-size="10" text-anchor="middle" fill="#1a1a1a" stroke="#1a1a1a" stroke-width="0.3" font-weight="bold" transform="translate(447.70,280.50) rotate(-90)" dominant-baseline="central">Time (s)</text>
<path d="M482.60,336.66 L609.00,229.60" fill="none" stroke="#a03030" stroke-width="1.0" stroke-linejoin="round" />
<path d="M482.60,338.72 L484.03,337.14 L485.47,336.12 L486.90,334.96 L488.34,333.82 L489.77,332.07 L491.21,330.46 L492.64,329.00 L494.08,328.16 L495.51,327.10 L496.95,325.25 L498.38,323.36 L499.82,322.09 L501.25,321.63 L502.69,319.79 L504.12,317.76 L505.56,316.98 L506.99,315.26 L508.43,314.10 L509.86,312.81 L511.30,311.39 L512.73,310.50 L514.17,308.95 L515.60,307.44 L517.04,306.46 L518.47,305.29 L519.91,303.10 L521.34,302.26 L522.78,300.69 L524.21,299.66 L525.64,297.96 L527.08,297.11 L528.51,295.78 L529.95,294.38 L531.38,292.82 L532.82,291.74 L534.25,290.20 L535.69,288.81 L537.12,288.07 L538.56,286.31 L539.99,285.82 L541.43,284.37 L542.86,282.15 L544.30,281.68 L545.73,279.94 L547.17,279.09 L548.60,277.85 L550.04,275.89 L551.47,275.26 L552.91,274.00 L554.34,273.17 L555.78,271.16 L557.21,270.56 L558.65,268.60 L560.08,267.51 L561.52,265.96 L562.95,265.40 L564.39,263.77 L565.82,263.18 L567.26,261.40 L568.69,260.44 L570.12,259.51 L571.56,258.14 L572.99,257.50 L574.43,257.20 L575.86,255.79 L577.30,255.16 L578.73,254.21 L580.17,253.47 L581.60,252.10 L583.04,251.11 L584.47,250.17 L585.91,249.07 L587.34,247.72 L588.78,247.41 L590.21,245.82 L591.65,245.17 L593.08,244.52 L594.52,244.69 L595.95,243.63 L597.39,242.84 L598.82,242.23 L600.26,242.26 L601.69,241.26 L603.13,240.74 L604.56,241.00 L606.00,240.01 L607.43,240.02 L608.87,239.88 L610.30,239.54" fill="none" stroke="#111" stroke-width="1.8" stroke-linejoin="round" />
<text x="561.50" y="228.00" font-size="9.6" text-anchor="middle" fill="#1a1a1a" font-weight="bold" stroke="#1a1a1a" stroke-width="0.3" >50 μg/mL</text>
<text x="488.90" y="251.60" font-size="9.9" text-anchor="start" fill="#1a1a1a" font-weight="bold" stroke="#1a1a1a" stroke-width="0.3" >y=320x+20.73,</text>
<text x="488.90" y="263.50" font-size="9.9" text-anchor="start" fill="#1a1a1a" font-weight="bold" stroke="#1a1a1a" stroke-width="0.3" >R<tspan font-size="6.5" dy="-3.5">2</tspan><tspan dy="3.5">=0.993</tspan></text>
<line x1="546.70" y1="311.40" x2="556.30" y2="311.40" stroke="#111" stroke-width="1.5" />
<text x="560.70" y="315.00" font-size="9.6" text-anchor="start" fill="#1a1a1a" font-weight="bold" stroke="#1a1a1a" stroke-width="0.3" >Data points</text>
<line x1="546.70" y1="321.20" x2="556.30" y2="321.20" stroke="#a83030" stroke-width="1.2" />
<text x="560.70" y="324.80" font-size="9.6" text-anchor="start" fill="#1a1a1a" font-weight="bold" stroke="#1a1a1a" stroke-width="0.3" >Linear fitting</text>
</svg></body></html>
